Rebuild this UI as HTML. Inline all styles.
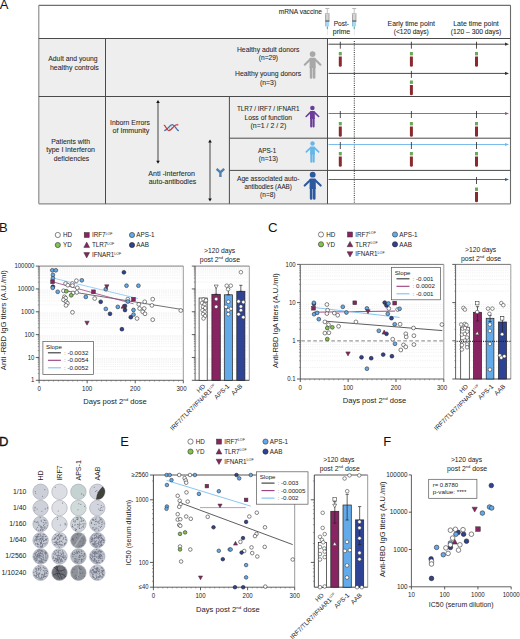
<!DOCTYPE html>
<html><head><meta charset="utf-8"><style>
html,body{margin:0;padding:0;background:#fff;width:520px;height:639px;overflow:hidden}
svg{display:block}
text{font-family:"Liberation Sans", sans-serif}
</style></head><body>
<svg width="520" height="639" viewBox="0 0 520 639">
<rect width="520" height="639" fill="#fff"/>
<text x="-0.20" y="8.50" font-size="13.0" text-anchor="start" fill="#111" >A</text>
<rect x="38.80" y="38.50" width="288.70" height="165.30" fill="#eeeeee" stroke="none" stroke-width="0.8" />
<line x1="38.80" y1="5.30" x2="510.50" y2="5.30" stroke="#4a4a4a" stroke-width="1.0" />
<line x1="38.80" y1="5.30" x2="38.80" y2="203.80" stroke="#858585" stroke-width="1.1" />
<line x1="510.50" y1="5.30" x2="510.50" y2="203.80" stroke="#6a6a6a" stroke-width="1.1" />
<line x1="38.80" y1="203.80" x2="510.50" y2="203.80" stroke="#8a8a8a" stroke-width="1.3" />
<line x1="38.80" y1="38.50" x2="510.50" y2="38.50" stroke="#4a4a4a" stroke-width="1.0" />
<line x1="38.80" y1="96.50" x2="510.50" y2="96.50" stroke="#4a4a4a" stroke-width="1.0" />
<line x1="105.50" y1="38.50" x2="105.50" y2="203.80" stroke="#4a4a4a" stroke-width="1.0" />
<line x1="327.50" y1="38.50" x2="327.50" y2="203.80" stroke="#4a4a4a" stroke-width="1.0" />
<line x1="229.40" y1="96.50" x2="229.40" y2="203.80" stroke="#4a4a4a" stroke-width="1.0" />
<line x1="229.40" y1="138.20" x2="510.50" y2="138.20" stroke="#4a4a4a" stroke-width="1.0" />
<line x1="229.40" y1="170.40" x2="510.50" y2="170.40" stroke="#4a4a4a" stroke-width="1.0" />
<text x="72.90" y="61.40" font-size="7.3" text-anchor="middle" fill="#2a2a2a" stroke="#2a2a2a" stroke-width="0.08" textLength="49.2" lengthAdjust="spacingAndGlyphs">Adult and young</text>
<text x="74.40" y="69.60" font-size="7.3" text-anchor="middle" fill="#2a2a2a" stroke="#2a2a2a" stroke-width="0.08" textLength="48.8" lengthAdjust="spacingAndGlyphs">healthy controls</text>
<text x="70.60" y="144.20" font-size="7.3" text-anchor="middle" fill="#2a2a2a" stroke="#2a2a2a" stroke-width="0.08" textLength="38.8" lengthAdjust="spacingAndGlyphs">Patients with</text>
<text x="70.60" y="152.40" font-size="7.3" text-anchor="middle" fill="#2a2a2a" stroke="#2a2a2a" stroke-width="0.08" textLength="48.8" lengthAdjust="spacingAndGlyphs">type I interferon</text>
<text x="71.50" y="160.60" font-size="7.3" text-anchor="middle" fill="#2a2a2a" stroke="#2a2a2a" stroke-width="0.08" textLength="35.5" lengthAdjust="spacingAndGlyphs">deficiencies</text>
<text x="130.00" y="124.60" font-size="7.3" text-anchor="middle" fill="#2a2a2a" stroke="#2a2a2a" stroke-width="0.08" textLength="40" lengthAdjust="spacingAndGlyphs">Inborn Errors</text>
<text x="130.90" y="132.80" font-size="7.3" text-anchor="middle" fill="#2a2a2a" stroke="#2a2a2a" stroke-width="0.08" textLength="36.8" lengthAdjust="spacingAndGlyphs">of Immunity</text>
<text x="171.60" y="175.60" font-size="7.3" text-anchor="middle" fill="#2a2a2a" stroke="#2a2a2a" stroke-width="0.08" textLength="46.8" lengthAdjust="spacingAndGlyphs">Anti -interferon</text>
<text x="172.50" y="183.80" font-size="7.3" text-anchor="middle" fill="#2a2a2a" stroke="#2a2a2a" stroke-width="0.08" textLength="47.5" lengthAdjust="spacingAndGlyphs">auto-antibodies</text>
<text x="268.20" y="51.70" font-size="7.3" text-anchor="middle" fill="#2a2a2a" stroke="#2a2a2a" stroke-width="0.08" textLength="62.5" lengthAdjust="spacingAndGlyphs">Healthy adult donors</text>
<text x="268.40" y="59.90" font-size="7.3" text-anchor="middle" fill="#2a2a2a" stroke="#2a2a2a" stroke-width="0.08" textLength="19.3" lengthAdjust="spacingAndGlyphs">(n=29)</text>
<text x="268.10" y="76.40" font-size="7.3" text-anchor="middle" fill="#2a2a2a" stroke="#2a2a2a" stroke-width="0.08" textLength="66.2" lengthAdjust="spacingAndGlyphs">Healthy young donors</text>
<text x="268.10" y="84.60" font-size="7.3" text-anchor="middle" fill="#2a2a2a" stroke="#2a2a2a" stroke-width="0.08" textLength="16.2" lengthAdjust="spacingAndGlyphs">(n=3)</text>
<text x="268.20" y="111.40" font-size="7.3" text-anchor="middle" fill="#2a2a2a" stroke="#2a2a2a" stroke-width="0.08" textLength="62.5" lengthAdjust="spacingAndGlyphs">TLR7 / IRF7 / IFNAR1</text>
<text x="268.20" y="119.60" font-size="7.3" text-anchor="middle" fill="#2a2a2a" stroke="#2a2a2a" stroke-width="0.08" textLength="47.5" lengthAdjust="spacingAndGlyphs">Loss of function</text>
<text x="268.40" y="127.80" font-size="7.3" text-anchor="middle" fill="#2a2a2a" stroke="#2a2a2a" stroke-width="0.08" textLength="35.8" lengthAdjust="spacingAndGlyphs">(n=1 / 2 / 2)</text>
<text x="267.10" y="152.70" font-size="7.3" text-anchor="middle" fill="#2a2a2a" stroke="#2a2a2a" stroke-width="0.08" textLength="18.2" lengthAdjust="spacingAndGlyphs">APS-1</text>
<text x="268.40" y="160.70" font-size="7.3" text-anchor="middle" fill="#2a2a2a" stroke="#2a2a2a" stroke-width="0.08" textLength="19.2" lengthAdjust="spacingAndGlyphs">(n=13)</text>
<text x="268.20" y="180.70" font-size="7.3" text-anchor="middle" fill="#2a2a2a" stroke="#2a2a2a" stroke-width="0.08" textLength="62.5" lengthAdjust="spacingAndGlyphs">Age associated auto-</text>
<text x="268.20" y="188.70" font-size="7.3" text-anchor="middle" fill="#2a2a2a" stroke="#2a2a2a" stroke-width="0.08" textLength="47.5" lengthAdjust="spacingAndGlyphs">antibodies (AAB)</text>
<text x="267.80" y="196.70" font-size="7.3" text-anchor="middle" fill="#2a2a2a" stroke="#2a2a2a" stroke-width="0.08" textLength="15.5" lengthAdjust="spacingAndGlyphs">(n=8)</text>
<text x="300.40" y="14.00" font-size="6.5" text-anchor="middle" fill="#2a2a2a" stroke="#2a2a2a" stroke-width="0.08" textLength="43.2" lengthAdjust="spacingAndGlyphs">mRNA vaccine</text>
<text x="341.40" y="26.00" font-size="7.3" text-anchor="middle" fill="#2a2a2a" stroke="#2a2a2a" stroke-width="0.08" textLength="15.3" lengthAdjust="spacingAndGlyphs">Post-</text>
<text x="341.50" y="33.80" font-size="7.3" text-anchor="middle" fill="#2a2a2a" stroke="#2a2a2a" stroke-width="0.08" textLength="17.5" lengthAdjust="spacingAndGlyphs">prime</text>
<text x="411.30" y="26.30" font-size="7.3" text-anchor="middle" fill="#2a2a2a" stroke="#2a2a2a" stroke-width="0.08" textLength="47.5" lengthAdjust="spacingAndGlyphs">Early time point</text>
<text x="411.30" y="34.40" font-size="7.3" text-anchor="middle" fill="#2a2a2a" stroke="#2a2a2a" stroke-width="0.08" textLength="35" lengthAdjust="spacingAndGlyphs">(&lt;120 days)</text>
<text x="476.00" y="26.30" font-size="7.3" text-anchor="middle" fill="#2a2a2a" stroke="#2a2a2a" stroke-width="0.08" textLength="45.5" lengthAdjust="spacingAndGlyphs">Late time point</text>
<text x="476.00" y="34.40" font-size="7.3" text-anchor="middle" fill="#2a2a2a" stroke="#2a2a2a" stroke-width="0.08" textLength="50.5" lengthAdjust="spacingAndGlyphs">(120 – 300 days)</text>
<rect x="325.30" y="8.00" width="4.00" height="0.80" fill="#a8a8a8" stroke="none" stroke-width="0.8" />
<rect x="326.80" y="8.80" width="1.00" height="4.60" fill="#c4c4c4" stroke="none" stroke-width="0.8" />
<rect x="324.90" y="13.40" width="4.80" height="1.00" fill="#9c9c9c" stroke="none" stroke-width="0.8" />
<rect x="325.20" y="14.40" width="4.20" height="6.20" fill="#d4d4d4" stroke="none" stroke-width="0.8" />
<rect x="325.20" y="14.40" width="0.90" height="6.20" fill="#a0a0a0" stroke="none" stroke-width="0.8" />
<rect x="328.50" y="14.40" width="0.90" height="6.20" fill="#a8a8a8" stroke="none" stroke-width="0.8" />
<rect x="325.20" y="20.40" width="4.20" height="1.40" fill="#505050" stroke="none" stroke-width="0.8" />
<rect x="325.40" y="21.80" width="3.80" height="4.60" fill="#a8d8f4" stroke="none" stroke-width="0.8" />
<rect x="325.40" y="21.80" width="0.70" height="4.60" fill="#7ab0d4" stroke="none" stroke-width="0.8" />
<rect x="326.85" y="26.40" width="0.90" height="2.80" fill="#3a9a8a" stroke="none" stroke-width="0.8" />
<rect x="327.05" y="29.20" width="0.50" height="6.00" fill="#d0d0d0" stroke="none" stroke-width="0.8" />
<rect x="352.20" y="8.00" width="4.00" height="0.80" fill="#a8a8a8" stroke="none" stroke-width="0.8" />
<rect x="353.70" y="8.80" width="1.00" height="4.60" fill="#c4c4c4" stroke="none" stroke-width="0.8" />
<rect x="351.80" y="13.40" width="4.80" height="1.00" fill="#9c9c9c" stroke="none" stroke-width="0.8" />
<rect x="352.10" y="14.40" width="4.20" height="6.20" fill="#d4d4d4" stroke="none" stroke-width="0.8" />
<rect x="352.10" y="14.40" width="0.90" height="6.20" fill="#a0a0a0" stroke="none" stroke-width="0.8" />
<rect x="355.40" y="14.40" width="0.90" height="6.20" fill="#a8a8a8" stroke="none" stroke-width="0.8" />
<rect x="352.10" y="20.40" width="4.20" height="1.40" fill="#505050" stroke="none" stroke-width="0.8" />
<rect x="352.30" y="21.80" width="3.80" height="4.60" fill="#a8d8f4" stroke="none" stroke-width="0.8" />
<rect x="352.30" y="21.80" width="0.70" height="4.60" fill="#7ab0d4" stroke="none" stroke-width="0.8" />
<rect x="353.75" y="26.40" width="0.90" height="2.80" fill="#3a9a8a" stroke="none" stroke-width="0.8" />
<rect x="353.95" y="29.20" width="0.50" height="6.00" fill="#d0d0d0" stroke="none" stroke-width="0.8" />
<line x1="158.00" y1="102.00" x2="158.00" y2="161.80" stroke="#555" stroke-width="1.1" />
<path d="M156.2,103.0 L158,100 L159.8,103.0 Z" fill="#111"/>
<path d="M156.2,160.8 L158,163.8 L159.8,160.8 Z" fill="#111"/>
<line x1="210.00" y1="141.50" x2="210.00" y2="199.50" stroke="#555" stroke-width="1.1" />
<path d="M208.2,142.5 L210,139.5 L211.8,142.5 Z" fill="#111"/>
<path d="M208.2,198.5 L210,201.5 L211.8,198.5 Z" fill="#111"/>
<path d="M169.5,127.2 L169.8,129.8 M171.2,126.2 L171.6,129.6 M173.2,125.6 L173.5,128.4" stroke="#a9bdd6" stroke-width="0.6"/>
<path d="M164.2,130.7 C167.2,130.7 169.4,124.6 172.3,124.6 C175.2,124.6 176.4,130.7 178.9,130.7" fill="none" stroke="#3f72ae" stroke-width="1.25"/>
<path d="M163.8,125.0 C165.8,125.2 166.6,130.7 168.8,130.7 C171.2,130.7 173.6,125.8 175.8,125.0 L177.6,124.6" fill="none" stroke="#c03a3a" stroke-width="1.25"/>
<circle cx="177.6" cy="124.7" r="0.9" fill="#d46a6a"/>
<path d="M216.6,168.8 L220.4,172.4 L224.2,168.8 M220.4,172.2 L220.4,177.0" fill="none" stroke="#4f80b2" stroke-width="2.4" stroke-linejoin="miter"/>
<g transform="translate(312.6,54.1) scale(0.98)" fill="#a8a8a8" stroke="#a8a8a8"><circle cx="0" cy="0" r="2.9" stroke="none"/><path d="M-3.1,4.7 Q-3.1,3.8 -2.2,3.8 L2.2,3.8 Q3.1,3.8 3.1,4.7 L3.1,14.2 L-3.1,14.2 Z" stroke="none"/><path d="M-2.3,5.3 L-8.0,10.9 M2.3,5.3 L8.0,10.9" stroke-width="2.1" stroke-linecap="round" fill="none"/><path d="M-1.55,13 L-1.55,23.8 M1.55,13 L1.55,23.8" stroke-width="2.6" stroke-linecap="round" fill="none"/></g>
<g transform="translate(312.4,108.0) scale(0.78)" fill="#6a3d9a" stroke="#6a3d9a"><circle cx="0" cy="0" r="2.9" stroke="none"/><path d="M-3.1,4.7 Q-3.1,3.8 -2.2,3.8 L2.2,3.8 Q3.1,3.8 3.1,4.7 L3.1,14.2 L-3.1,14.2 Z" stroke="none"/><path d="M-2.3,5.3 L-8.0,10.9 M2.3,5.3 L8.0,10.9" stroke-width="2.1" stroke-linecap="round" fill="none"/><path d="M-1.55,13 L-1.55,23.8 M1.55,13 L1.55,23.8" stroke-width="2.6" stroke-linecap="round" fill="none"/></g>
<g transform="translate(312.5,143.5) scale(0.77)" fill="#66b6ea" stroke="#66b6ea"><circle cx="0" cy="0" r="2.9" stroke="none"/><path d="M-3.1,4.7 Q-3.1,3.8 -2.2,3.8 L2.2,3.8 Q3.1,3.8 3.1,4.7 L3.1,14.2 L-3.1,14.2 Z" stroke="none"/><path d="M-2.3,5.3 L-8.0,10.9 M2.3,5.3 L8.0,10.9" stroke-width="2.1" stroke-linecap="round" fill="none"/><path d="M-1.55,13 L-1.55,23.8 M1.55,13 L1.55,23.8" stroke-width="2.6" stroke-linecap="round" fill="none"/></g>
<g transform="translate(312.7,174.7) scale(1.0)" fill="#2d5a9e" stroke="#2d5a9e"><circle cx="0" cy="0" r="2.9" stroke="none"/><path d="M-3.1,4.7 Q-3.1,3.8 -2.2,3.8 L2.2,3.8 Q3.1,3.8 3.1,4.7 L3.1,14.2 L-3.1,14.2 Z" stroke="none"/><path d="M-2.3,5.3 L-8.0,10.9 M2.3,5.3 L8.0,10.9" stroke-width="2.1" stroke-linecap="round" fill="none"/><path d="M-1.55,13 L-1.55,23.8 M1.55,13 L1.55,23.8" stroke-width="2.6" stroke-linecap="round" fill="none"/></g>
<line x1="354.30" y1="41.00" x2="354.30" y2="203.80" stroke="#111" stroke-width="0.9" stroke-dasharray="1,1.2"/>
<line x1="328.50" y1="44.20" x2="506.50" y2="44.20" stroke="#333" stroke-width="0.9" />
<path d="M505,42.6 L509,44.2 L505,45.800000000000004 Z" fill="#333"/>
<line x1="340.30" y1="41.70" x2="340.30" y2="48.70" stroke="#222" stroke-width="0.8" />
<line x1="411.40" y1="41.70" x2="411.40" y2="48.70" stroke="#222" stroke-width="0.8" />
<line x1="476.50" y1="41.70" x2="476.50" y2="48.70" stroke="#222" stroke-width="0.8" />
<line x1="328.50" y1="73.40" x2="506.50" y2="73.40" stroke="#333" stroke-width="0.9" />
<path d="M505,71.80000000000001 L509,73.4 L505,75.0 Z" fill="#333"/>
<line x1="411.40" y1="70.90" x2="411.40" y2="77.90" stroke="#222" stroke-width="0.8" />
<line x1="328.50" y1="113.50" x2="506.50" y2="113.50" stroke="#8c5a86" stroke-width="0.9" />
<path d="M505,111.9 L509,113.5 L505,115.1 Z" fill="#8c5a86"/>
<line x1="340.30" y1="111.00" x2="340.30" y2="118.00" stroke="#222" stroke-width="0.8" />
<line x1="411.40" y1="111.00" x2="411.40" y2="118.00" stroke="#222" stroke-width="0.8" />
<line x1="476.50" y1="111.00" x2="476.50" y2="118.00" stroke="#222" stroke-width="0.8" />
<line x1="328.50" y1="144.50" x2="506.50" y2="144.50" stroke="#6cb6ea" stroke-width="0.9" />
<path d="M505,142.9 L509,144.5 L505,146.1 Z" fill="#6cb6ea"/>
<line x1="340.30" y1="142.00" x2="340.30" y2="149.00" stroke="#222" stroke-width="0.8" />
<line x1="411.40" y1="142.00" x2="411.40" y2="149.00" stroke="#222" stroke-width="0.8" />
<line x1="476.50" y1="142.00" x2="476.50" y2="149.00" stroke="#222" stroke-width="0.8" />
<line x1="328.50" y1="179.50" x2="506.50" y2="179.50" stroke="#2f5a9a" stroke-width="0.9" />
<path d="M505,177.9 L509,179.5 L505,181.1 Z" fill="#2f5a9a"/>
<line x1="476.50" y1="177.00" x2="476.50" y2="184.00" stroke="#222" stroke-width="0.8" />
<rect x="338.80" y="52.00" width="3.00" height="3.40" fill="#6aa85a" stroke="none" stroke-width="0.8" />
<path d="M338.8,56.6 L341.8,56.6 L341.8,65.4 Q341.8,66.8 340.3,66.8 Q338.8,66.8 338.8,65.4 Z" fill="#8a2a2e"/>
<rect x="409.90" y="52.00" width="3.00" height="3.40" fill="#6aa85a" stroke="none" stroke-width="0.8" />
<path d="M409.9,56.6 L412.9,56.6 L412.9,65.4 Q412.9,66.8 411.4,66.8 Q409.9,66.8 409.9,65.4 Z" fill="#8a2a2e"/>
<rect x="475.00" y="52.00" width="3.00" height="3.40" fill="#6aa85a" stroke="none" stroke-width="0.8" />
<path d="M475.0,56.6 L478.0,56.6 L478.0,65.4 Q478.0,66.8 476.5,66.8 Q475.0,66.8 475.0,65.4 Z" fill="#8a2a2e"/>
<rect x="409.90" y="80.50" width="3.00" height="3.40" fill="#6aa85a" stroke="none" stroke-width="0.8" />
<path d="M409.9,85.1 L412.9,85.1 L412.9,93.9 Q412.9,95.3 411.4,95.3 Q409.9,95.3 409.9,93.9 Z" fill="#8a2a2e"/>
<rect x="338.80" y="122.00" width="3.00" height="3.40" fill="#6aa85a" stroke="none" stroke-width="0.8" />
<path d="M338.8,126.6 L341.8,126.6 L341.8,135.4 Q341.8,136.8 340.3,136.8 Q338.8,136.8 338.8,135.4 Z" fill="#8a2a2e"/>
<rect x="409.90" y="122.00" width="3.00" height="3.40" fill="#6aa85a" stroke="none" stroke-width="0.8" />
<path d="M409.9,126.6 L412.9,126.6 L412.9,135.4 Q412.9,136.8 411.4,136.8 Q409.9,136.8 409.9,135.4 Z" fill="#8a2a2e"/>
<rect x="475.00" y="122.00" width="3.00" height="3.40" fill="#6aa85a" stroke="none" stroke-width="0.8" />
<path d="M475.0,126.6 L478.0,126.6 L478.0,135.4 Q478.0,136.8 476.5,136.8 Q475.0,136.8 475.0,135.4 Z" fill="#8a2a2e"/>
<rect x="338.80" y="152.00" width="3.00" height="3.40" fill="#6aa85a" stroke="none" stroke-width="0.8" />
<path d="M338.8,156.6 L341.8,156.6 L341.8,165.4 Q341.8,166.8 340.3,166.8 Q338.8,166.8 338.8,165.4 Z" fill="#8a2a2e"/>
<rect x="409.90" y="152.00" width="3.00" height="3.40" fill="#6aa85a" stroke="none" stroke-width="0.8" />
<path d="M409.9,156.6 L412.9,156.6 L412.9,165.4 Q412.9,166.8 411.4,166.8 Q409.9,166.8 409.9,165.4 Z" fill="#8a2a2e"/>
<rect x="475.00" y="152.00" width="3.00" height="3.40" fill="#6aa85a" stroke="none" stroke-width="0.8" />
<path d="M475.0,156.6 L478.0,156.6 L478.0,165.4 Q478.0,166.8 476.5,166.8 Q475.0,166.8 475.0,165.4 Z" fill="#8a2a2e"/>
<rect x="475.00" y="187.50" width="3.00" height="3.40" fill="#6aa85a" stroke="none" stroke-width="0.8" />
<path d="M475.0,192.1 L478.0,192.1 L478.0,200.9 Q478.0,202.3 476.5,202.3 Q475.0,202.3 475.0,200.9 Z" fill="#8a2a2e"/>
<text x="-1.00" y="231.70" font-size="13.0" text-anchor="start" fill="#111" >B</text>
<circle cx="57.80" cy="235.00" r="2.6" fill="#ffffff" stroke="#333" stroke-width="0.6"/>
<text x="63.00" y="237.20" font-size="6.3" text-anchor="start" fill="#222" >HD</text>
<circle cx="57.80" cy="245.00" r="2.6" fill="#82c24e" stroke="#333" stroke-width="0.6"/>
<text x="63.00" y="247.20" font-size="6.3" text-anchor="start" fill="#222" >YD</text>
<rect x="84.20" y="232.50" width="5.00" height="5.00" fill="#892462" stroke="#333" stroke-width="0.5" />
<text x="91.90" y="237.20" font-size="6.3" text-anchor="start" fill="#222" >IRF7<tspan font-size="3.6" dy="-2.7">LOF</tspan></text>
<path d="M83.83,247.38 L89.58,247.38 L86.70,242.12 Z" fill="#892462" stroke="#333" stroke-width="0.5"/>
<text x="91.90" y="247.20" font-size="6.3" text-anchor="start" fill="#222" >TLR7<tspan font-size="3.6" dy="-2.7">LOF</tspan></text>
<path d="M83.83,252.62 L89.58,252.62 L86.70,257.88 Z" fill="#892462" stroke="#333" stroke-width="0.5"/>
<text x="91.90" y="257.20" font-size="6.3" text-anchor="start" fill="#222" >IFNAR1<tspan font-size="3.6" dy="-2.7">LOF</tspan></text>
<circle cx="132.00" cy="235.00" r="2.6" fill="#62aaea" stroke="#333" stroke-width="0.6"/>
<text x="136.30" y="237.20" font-size="6.3" text-anchor="start" fill="#222" >APS-1</text>
<circle cx="132.00" cy="245.00" r="2.6" fill="#2f4394" stroke="#222" stroke-width="0.6"/>
<text x="136.30" y="247.20" font-size="6.3" text-anchor="start" fill="#222" >AAB</text>
<line x1="39.10" y1="266.10" x2="183.30" y2="266.10" stroke="#555" stroke-width="0.8" />
<line x1="183.30" y1="266.10" x2="183.30" y2="380.30" stroke="#999" stroke-width="1.0" />
<line x1="39.10" y1="266.10" x2="39.10" y2="380.30" stroke="#444" stroke-width="0.85" />
<line x1="35.80" y1="380.30" x2="39.10" y2="380.30" stroke="#333" stroke-width="0.8" />
<line x1="37.80" y1="373.42" x2="39.10" y2="373.42" stroke="#555" stroke-width="0.5" />
<line x1="40.10" y1="373.42" x2="183.30" y2="373.42" stroke="#e2e2e2" stroke-width="0.5" stroke-dasharray="1.2,1"/>
<line x1="37.80" y1="369.40" x2="39.10" y2="369.40" stroke="#555" stroke-width="0.5" />
<line x1="40.10" y1="369.40" x2="183.30" y2="369.40" stroke="#e2e2e2" stroke-width="0.5" stroke-dasharray="1.2,1"/>
<line x1="37.80" y1="366.55" x2="39.10" y2="366.55" stroke="#555" stroke-width="0.5" />
<line x1="40.10" y1="366.55" x2="183.30" y2="366.55" stroke="#e2e2e2" stroke-width="0.5" stroke-dasharray="1.2,1"/>
<line x1="37.80" y1="364.34" x2="39.10" y2="364.34" stroke="#555" stroke-width="0.5" />
<line x1="40.10" y1="364.34" x2="183.30" y2="364.34" stroke="#e2e2e2" stroke-width="0.5" stroke-dasharray="1.2,1"/>
<line x1="37.80" y1="362.53" x2="39.10" y2="362.53" stroke="#555" stroke-width="0.5" />
<line x1="40.10" y1="362.53" x2="183.30" y2="362.53" stroke="#e2e2e2" stroke-width="0.5" stroke-dasharray="1.2,1"/>
<line x1="37.80" y1="361.00" x2="39.10" y2="361.00" stroke="#555" stroke-width="0.5" />
<line x1="40.10" y1="361.00" x2="183.30" y2="361.00" stroke="#e2e2e2" stroke-width="0.5" stroke-dasharray="1.2,1"/>
<line x1="37.80" y1="359.67" x2="39.10" y2="359.67" stroke="#555" stroke-width="0.5" />
<line x1="40.10" y1="359.67" x2="183.30" y2="359.67" stroke="#e2e2e2" stroke-width="0.5" stroke-dasharray="1.2,1"/>
<line x1="37.80" y1="358.51" x2="39.10" y2="358.51" stroke="#555" stroke-width="0.5" />
<line x1="40.10" y1="358.51" x2="183.30" y2="358.51" stroke="#e2e2e2" stroke-width="0.5" stroke-dasharray="1.2,1"/>
<line x1="35.80" y1="357.46" x2="39.10" y2="357.46" stroke="#333" stroke-width="0.8" />
<line x1="37.80" y1="350.58" x2="39.10" y2="350.58" stroke="#555" stroke-width="0.5" />
<line x1="40.10" y1="350.58" x2="183.30" y2="350.58" stroke="#e2e2e2" stroke-width="0.5" stroke-dasharray="1.2,1"/>
<line x1="37.80" y1="346.56" x2="39.10" y2="346.56" stroke="#555" stroke-width="0.5" />
<line x1="40.10" y1="346.56" x2="183.30" y2="346.56" stroke="#e2e2e2" stroke-width="0.5" stroke-dasharray="1.2,1"/>
<line x1="37.80" y1="343.71" x2="39.10" y2="343.71" stroke="#555" stroke-width="0.5" />
<line x1="40.10" y1="343.71" x2="183.30" y2="343.71" stroke="#e2e2e2" stroke-width="0.5" stroke-dasharray="1.2,1"/>
<line x1="37.80" y1="341.50" x2="39.10" y2="341.50" stroke="#555" stroke-width="0.5" />
<line x1="40.10" y1="341.50" x2="183.30" y2="341.50" stroke="#e2e2e2" stroke-width="0.5" stroke-dasharray="1.2,1"/>
<line x1="37.80" y1="339.69" x2="39.10" y2="339.69" stroke="#555" stroke-width="0.5" />
<line x1="40.10" y1="339.69" x2="183.30" y2="339.69" stroke="#e2e2e2" stroke-width="0.5" stroke-dasharray="1.2,1"/>
<line x1="37.80" y1="338.16" x2="39.10" y2="338.16" stroke="#555" stroke-width="0.5" />
<line x1="40.10" y1="338.16" x2="183.30" y2="338.16" stroke="#e2e2e2" stroke-width="0.5" stroke-dasharray="1.2,1"/>
<line x1="37.80" y1="336.83" x2="39.10" y2="336.83" stroke="#555" stroke-width="0.5" />
<line x1="40.10" y1="336.83" x2="183.30" y2="336.83" stroke="#e2e2e2" stroke-width="0.5" stroke-dasharray="1.2,1"/>
<line x1="37.80" y1="335.67" x2="39.10" y2="335.67" stroke="#555" stroke-width="0.5" />
<line x1="40.10" y1="335.67" x2="183.30" y2="335.67" stroke="#e2e2e2" stroke-width="0.5" stroke-dasharray="1.2,1"/>
<line x1="35.80" y1="334.62" x2="39.10" y2="334.62" stroke="#333" stroke-width="0.8" />
<line x1="37.80" y1="327.74" x2="39.10" y2="327.74" stroke="#555" stroke-width="0.5" />
<line x1="40.10" y1="327.74" x2="183.30" y2="327.74" stroke="#e2e2e2" stroke-width="0.5" stroke-dasharray="1.2,1"/>
<line x1="37.80" y1="323.72" x2="39.10" y2="323.72" stroke="#555" stroke-width="0.5" />
<line x1="40.10" y1="323.72" x2="183.30" y2="323.72" stroke="#e2e2e2" stroke-width="0.5" stroke-dasharray="1.2,1"/>
<line x1="37.80" y1="320.87" x2="39.10" y2="320.87" stroke="#555" stroke-width="0.5" />
<line x1="40.10" y1="320.87" x2="183.30" y2="320.87" stroke="#e2e2e2" stroke-width="0.5" stroke-dasharray="1.2,1"/>
<line x1="37.80" y1="318.66" x2="39.10" y2="318.66" stroke="#555" stroke-width="0.5" />
<line x1="40.10" y1="318.66" x2="183.30" y2="318.66" stroke="#e2e2e2" stroke-width="0.5" stroke-dasharray="1.2,1"/>
<line x1="37.80" y1="316.85" x2="39.10" y2="316.85" stroke="#555" stroke-width="0.5" />
<line x1="40.10" y1="316.85" x2="183.30" y2="316.85" stroke="#e2e2e2" stroke-width="0.5" stroke-dasharray="1.2,1"/>
<line x1="37.80" y1="315.32" x2="39.10" y2="315.32" stroke="#555" stroke-width="0.5" />
<line x1="40.10" y1="315.32" x2="183.30" y2="315.32" stroke="#e2e2e2" stroke-width="0.5" stroke-dasharray="1.2,1"/>
<line x1="37.80" y1="313.99" x2="39.10" y2="313.99" stroke="#555" stroke-width="0.5" />
<line x1="40.10" y1="313.99" x2="183.30" y2="313.99" stroke="#e2e2e2" stroke-width="0.5" stroke-dasharray="1.2,1"/>
<line x1="37.80" y1="312.83" x2="39.10" y2="312.83" stroke="#555" stroke-width="0.5" />
<line x1="40.10" y1="312.83" x2="183.30" y2="312.83" stroke="#e2e2e2" stroke-width="0.5" stroke-dasharray="1.2,1"/>
<line x1="35.80" y1="311.78" x2="39.10" y2="311.78" stroke="#333" stroke-width="0.8" />
<line x1="37.80" y1="304.90" x2="39.10" y2="304.90" stroke="#555" stroke-width="0.5" />
<line x1="40.10" y1="304.90" x2="183.30" y2="304.90" stroke="#e2e2e2" stroke-width="0.5" stroke-dasharray="1.2,1"/>
<line x1="37.80" y1="300.88" x2="39.10" y2="300.88" stroke="#555" stroke-width="0.5" />
<line x1="40.10" y1="300.88" x2="183.30" y2="300.88" stroke="#e2e2e2" stroke-width="0.5" stroke-dasharray="1.2,1"/>
<line x1="37.80" y1="298.03" x2="39.10" y2="298.03" stroke="#555" stroke-width="0.5" />
<line x1="40.10" y1="298.03" x2="183.30" y2="298.03" stroke="#e2e2e2" stroke-width="0.5" stroke-dasharray="1.2,1"/>
<line x1="37.80" y1="295.82" x2="39.10" y2="295.82" stroke="#555" stroke-width="0.5" />
<line x1="40.10" y1="295.82" x2="183.30" y2="295.82" stroke="#e2e2e2" stroke-width="0.5" stroke-dasharray="1.2,1"/>
<line x1="37.80" y1="294.01" x2="39.10" y2="294.01" stroke="#555" stroke-width="0.5" />
<line x1="40.10" y1="294.01" x2="183.30" y2="294.01" stroke="#e2e2e2" stroke-width="0.5" stroke-dasharray="1.2,1"/>
<line x1="37.80" y1="292.48" x2="39.10" y2="292.48" stroke="#555" stroke-width="0.5" />
<line x1="40.10" y1="292.48" x2="183.30" y2="292.48" stroke="#e2e2e2" stroke-width="0.5" stroke-dasharray="1.2,1"/>
<line x1="37.80" y1="291.15" x2="39.10" y2="291.15" stroke="#555" stroke-width="0.5" />
<line x1="40.10" y1="291.15" x2="183.30" y2="291.15" stroke="#e2e2e2" stroke-width="0.5" stroke-dasharray="1.2,1"/>
<line x1="37.80" y1="289.99" x2="39.10" y2="289.99" stroke="#555" stroke-width="0.5" />
<line x1="40.10" y1="289.99" x2="183.30" y2="289.99" stroke="#e2e2e2" stroke-width="0.5" stroke-dasharray="1.2,1"/>
<line x1="35.80" y1="288.94" x2="39.10" y2="288.94" stroke="#333" stroke-width="0.8" />
<line x1="37.80" y1="282.06" x2="39.10" y2="282.06" stroke="#555" stroke-width="0.5" />
<line x1="40.10" y1="282.06" x2="183.30" y2="282.06" stroke="#e2e2e2" stroke-width="0.5" stroke-dasharray="1.2,1"/>
<line x1="37.80" y1="278.04" x2="39.10" y2="278.04" stroke="#555" stroke-width="0.5" />
<line x1="40.10" y1="278.04" x2="183.30" y2="278.04" stroke="#e2e2e2" stroke-width="0.5" stroke-dasharray="1.2,1"/>
<line x1="37.80" y1="275.19" x2="39.10" y2="275.19" stroke="#555" stroke-width="0.5" />
<line x1="40.10" y1="275.19" x2="183.30" y2="275.19" stroke="#e2e2e2" stroke-width="0.5" stroke-dasharray="1.2,1"/>
<line x1="37.80" y1="272.98" x2="39.10" y2="272.98" stroke="#555" stroke-width="0.5" />
<line x1="40.10" y1="272.98" x2="183.30" y2="272.98" stroke="#e2e2e2" stroke-width="0.5" stroke-dasharray="1.2,1"/>
<line x1="37.80" y1="271.17" x2="39.10" y2="271.17" stroke="#555" stroke-width="0.5" />
<line x1="40.10" y1="271.17" x2="183.30" y2="271.17" stroke="#e2e2e2" stroke-width="0.5" stroke-dasharray="1.2,1"/>
<line x1="37.80" y1="269.64" x2="39.10" y2="269.64" stroke="#555" stroke-width="0.5" />
<line x1="40.10" y1="269.64" x2="183.30" y2="269.64" stroke="#e2e2e2" stroke-width="0.5" stroke-dasharray="1.2,1"/>
<line x1="37.80" y1="268.31" x2="39.10" y2="268.31" stroke="#555" stroke-width="0.5" />
<line x1="40.10" y1="268.31" x2="183.30" y2="268.31" stroke="#e2e2e2" stroke-width="0.5" stroke-dasharray="1.2,1"/>
<line x1="37.80" y1="267.15" x2="39.10" y2="267.15" stroke="#555" stroke-width="0.5" />
<line x1="40.10" y1="267.15" x2="183.30" y2="267.15" stroke="#e2e2e2" stroke-width="0.5" stroke-dasharray="1.2,1"/>
<line x1="35.80" y1="266.10" x2="39.10" y2="266.10" stroke="#333" stroke-width="0.8" />
<text x="0" y="0" font-size="6.6" text-anchor="end" fill="#222" transform="translate(34.40 268.20) scale(0.91 1)" >100000</text>
<text x="0" y="0" font-size="6.6" text-anchor="end" fill="#222" transform="translate(34.40 291.04) scale(0.91 1)" >10000</text>
<text x="0" y="0" font-size="6.6" text-anchor="end" fill="#222" transform="translate(34.40 313.88) scale(0.91 1)" >1000</text>
<text x="0" y="0" font-size="6.6" text-anchor="end" fill="#222" transform="translate(34.40 336.72) scale(0.91 1)" >100</text>
<text x="0" y="0" font-size="6.6" text-anchor="end" fill="#222" transform="translate(34.40 359.56) scale(0.91 1)" >10</text>
<text x="0" y="0" font-size="6.6" text-anchor="end" fill="#222" transform="translate(34.40 382.40) scale(0.91 1)" >1</text>
<line x1="39.10" y1="380.30" x2="183.30" y2="380.30" stroke="#444" stroke-width="0.85" />
<line x1="39.10" y1="380.30" x2="39.10" y2="383.30" stroke="#333" stroke-width="0.8" />
<line x1="43.91" y1="380.30" x2="43.91" y2="381.60" stroke="#555" stroke-width="0.5" />
<line x1="48.71" y1="380.30" x2="48.71" y2="381.60" stroke="#555" stroke-width="0.5" />
<line x1="53.52" y1="380.30" x2="53.52" y2="381.60" stroke="#555" stroke-width="0.5" />
<line x1="58.33" y1="380.30" x2="58.33" y2="381.60" stroke="#555" stroke-width="0.5" />
<line x1="63.13" y1="380.30" x2="63.13" y2="381.60" stroke="#555" stroke-width="0.5" />
<line x1="67.94" y1="380.30" x2="67.94" y2="381.60" stroke="#555" stroke-width="0.5" />
<line x1="72.75" y1="380.30" x2="72.75" y2="381.60" stroke="#555" stroke-width="0.5" />
<line x1="77.55" y1="380.30" x2="77.55" y2="381.60" stroke="#555" stroke-width="0.5" />
<line x1="82.36" y1="380.30" x2="82.36" y2="381.60" stroke="#555" stroke-width="0.5" />
<line x1="87.17" y1="380.30" x2="87.17" y2="383.30" stroke="#333" stroke-width="0.8" />
<line x1="91.97" y1="380.30" x2="91.97" y2="381.60" stroke="#555" stroke-width="0.5" />
<line x1="96.78" y1="380.30" x2="96.78" y2="381.60" stroke="#555" stroke-width="0.5" />
<line x1="101.59" y1="380.30" x2="101.59" y2="381.60" stroke="#555" stroke-width="0.5" />
<line x1="106.39" y1="380.30" x2="106.39" y2="381.60" stroke="#555" stroke-width="0.5" />
<line x1="111.20" y1="380.30" x2="111.20" y2="381.60" stroke="#555" stroke-width="0.5" />
<line x1="116.01" y1="380.30" x2="116.01" y2="381.60" stroke="#555" stroke-width="0.5" />
<line x1="120.81" y1="380.30" x2="120.81" y2="381.60" stroke="#555" stroke-width="0.5" />
<line x1="125.62" y1="380.30" x2="125.62" y2="381.60" stroke="#555" stroke-width="0.5" />
<line x1="130.43" y1="380.30" x2="130.43" y2="381.60" stroke="#555" stroke-width="0.5" />
<line x1="135.23" y1="380.30" x2="135.23" y2="383.30" stroke="#333" stroke-width="0.8" />
<line x1="140.04" y1="380.30" x2="140.04" y2="381.60" stroke="#555" stroke-width="0.5" />
<line x1="144.85" y1="380.30" x2="144.85" y2="381.60" stroke="#555" stroke-width="0.5" />
<line x1="149.65" y1="380.30" x2="149.65" y2="381.60" stroke="#555" stroke-width="0.5" />
<line x1="154.46" y1="380.30" x2="154.46" y2="381.60" stroke="#555" stroke-width="0.5" />
<line x1="159.27" y1="380.30" x2="159.27" y2="381.60" stroke="#555" stroke-width="0.5" />
<line x1="164.07" y1="380.30" x2="164.07" y2="381.60" stroke="#555" stroke-width="0.5" />
<line x1="168.88" y1="380.30" x2="168.88" y2="381.60" stroke="#555" stroke-width="0.5" />
<line x1="173.69" y1="380.30" x2="173.69" y2="381.60" stroke="#555" stroke-width="0.5" />
<line x1="178.49" y1="380.30" x2="178.49" y2="381.60" stroke="#555" stroke-width="0.5" />
<line x1="183.30" y1="380.30" x2="183.30" y2="383.30" stroke="#333" stroke-width="0.8" />
<text x="0" y="0" font-size="6.6" text-anchor="middle" fill="#222" transform="translate(39.10 390.90) scale(0.93 1)" >0</text>
<text x="0" y="0" font-size="6.6" text-anchor="middle" fill="#222" transform="translate(87.17 390.90) scale(0.93 1)" >100</text>
<text x="0" y="0" font-size="6.6" text-anchor="middle" fill="#222" transform="translate(135.23 390.90) scale(0.93 1)" >200</text>
<text x="0" y="0" font-size="6.6" text-anchor="middle" fill="#222" transform="translate(181.50 390.90) scale(0.93 1)" >300</text>
<text x="115.00" y="403.60" font-size="7.6" text-anchor="middle" fill="#222" >Days post 2<tspan font-size="4.4" dy="-3">nd</tspan><tspan dy="3"> dose</tspan></text>
<text x="5.90" y="320.20" font-size="7.7" text-anchor="middle" fill="#222" transform="rotate(-90 5.9 320.2)" >Anti -RBD IgG  titers (A.U./ml)</text>
<line x1="64.00" y1="290.60" x2="182.80" y2="309.60" stroke="#333" stroke-width="0.7" />
<line x1="52.60" y1="281.80" x2="133.50" y2="303.80" stroke="#9b3a7a" stroke-width="0.75" />
<line x1="52.90" y1="278.00" x2="138.00" y2="298.60" stroke="#7cc0f0" stroke-width="0.75" />
<circle cx="76.40" cy="280.70" r="1.9" fill="#ffffff" stroke="#333" stroke-width="0.6"/>
<circle cx="65.60" cy="283.50" r="1.9" fill="#ffffff" stroke="#333" stroke-width="0.6"/>
<circle cx="67.80" cy="285.20" r="1.9" fill="#ffffff" stroke="#333" stroke-width="0.6"/>
<circle cx="72.40" cy="283.50" r="1.9" fill="#ffffff" stroke="#333" stroke-width="0.6"/>
<circle cx="72.50" cy="285.60" r="1.9" fill="#ffffff" stroke="#333" stroke-width="0.6"/>
<circle cx="77.30" cy="287.80" r="1.9" fill="#ffffff" stroke="#333" stroke-width="0.6"/>
<circle cx="63.50" cy="290.80" r="1.9" fill="#ffffff" stroke="#333" stroke-width="0.6"/>
<circle cx="76.80" cy="292.40" r="1.9" fill="#ffffff" stroke="#333" stroke-width="0.6"/>
<circle cx="73.00" cy="293.00" r="1.9" fill="#ffffff" stroke="#333" stroke-width="0.6"/>
<circle cx="64.40" cy="296.80" r="1.9" fill="#ffffff" stroke="#333" stroke-width="0.6"/>
<circle cx="65.60" cy="298.10" r="1.9" fill="#ffffff" stroke="#333" stroke-width="0.6"/>
<circle cx="63.50" cy="299.80" r="1.9" fill="#ffffff" stroke="#333" stroke-width="0.6"/>
<circle cx="66.00" cy="301.60" r="1.9" fill="#ffffff" stroke="#333" stroke-width="0.6"/>
<circle cx="67.40" cy="303.30" r="1.9" fill="#ffffff" stroke="#333" stroke-width="0.6"/>
<circle cx="66.00" cy="305.40" r="1.9" fill="#ffffff" stroke="#333" stroke-width="0.6"/>
<circle cx="72.50" cy="312.30" r="1.9" fill="#ffffff" stroke="#333" stroke-width="0.6"/>
<circle cx="94.70" cy="298.50" r="1.9" fill="#ffffff" stroke="#333" stroke-width="0.6"/>
<circle cx="127.80" cy="299.20" r="1.9" fill="#ffffff" stroke="#333" stroke-width="0.6"/>
<circle cx="144.70" cy="301.80" r="1.9" fill="#ffffff" stroke="#333" stroke-width="0.6"/>
<circle cx="152.70" cy="299.20" r="1.9" fill="#ffffff" stroke="#333" stroke-width="0.6"/>
<circle cx="138.80" cy="304.30" r="1.9" fill="#ffffff" stroke="#333" stroke-width="0.6"/>
<circle cx="151.90" cy="305.40" r="1.9" fill="#ffffff" stroke="#333" stroke-width="0.6"/>
<circle cx="139.60" cy="308.50" r="1.9" fill="#ffffff" stroke="#333" stroke-width="0.6"/>
<circle cx="144.20" cy="308.50" r="1.9" fill="#ffffff" stroke="#333" stroke-width="0.6"/>
<circle cx="142.70" cy="311.80" r="1.9" fill="#ffffff" stroke="#333" stroke-width="0.6"/>
<circle cx="145.00" cy="313.80" r="1.9" fill="#ffffff" stroke="#333" stroke-width="0.6"/>
<circle cx="137.00" cy="318.50" r="1.9" fill="#ffffff" stroke="#333" stroke-width="0.6"/>
<circle cx="152.70" cy="319.70" r="1.9" fill="#ffffff" stroke="#333" stroke-width="0.6"/>
<circle cx="180.80" cy="310.50" r="1.9" fill="#ffffff" stroke="#333" stroke-width="0.6"/>
<circle cx="66.30" cy="291.20" r="1.9" fill="#82c24e" stroke="#333" stroke-width="0.6"/>
<circle cx="71.20" cy="295.30" r="1.9" fill="#82c24e" stroke="#333" stroke-width="0.6"/>
<circle cx="52.90" cy="286.70" r="1.9" fill="#2f4394" stroke="#222" stroke-width="0.6"/>
<circle cx="100.70" cy="301.80" r="1.9" fill="#2f4394" stroke="#222" stroke-width="0.6"/>
<circle cx="110.00" cy="313.80" r="1.9" fill="#2f4394" stroke="#222" stroke-width="0.6"/>
<circle cx="123.90" cy="272.30" r="1.9" fill="#2f4394" stroke="#222" stroke-width="0.6"/>
<circle cx="125.00" cy="310.00" r="1.9" fill="#2f4394" stroke="#222" stroke-width="0.6"/>
<circle cx="121.90" cy="329.20" r="1.9" fill="#2f4394" stroke="#222" stroke-width="0.6"/>
<circle cx="130.80" cy="317.20" r="1.9" fill="#2f4394" stroke="#222" stroke-width="0.6"/>
<circle cx="125.00" cy="306.00" r="1.9" fill="#2f4394" stroke="#222" stroke-width="0.6"/>
<circle cx="52.30" cy="270.30" r="1.9" fill="#62aaea" stroke="#333" stroke-width="0.6"/>
<circle cx="55.80" cy="270.30" r="1.9" fill="#62aaea" stroke="#333" stroke-width="0.6"/>
<circle cx="52.90" cy="274.90" r="1.9" fill="#62aaea" stroke="#333" stroke-width="0.6"/>
<circle cx="52.90" cy="278.20" r="1.9" fill="#62aaea" stroke="#333" stroke-width="0.6"/>
<circle cx="57.70" cy="291.80" r="1.9" fill="#62aaea" stroke="#333" stroke-width="0.6"/>
<circle cx="81.80" cy="280.30" r="1.9" fill="#62aaea" stroke="#333" stroke-width="0.6"/>
<circle cx="85.80" cy="296.90" r="1.9" fill="#62aaea" stroke="#333" stroke-width="0.6"/>
<circle cx="105.80" cy="289.20" r="1.9" fill="#62aaea" stroke="#333" stroke-width="0.6"/>
<circle cx="105.80" cy="308.90" r="1.9" fill="#62aaea" stroke="#333" stroke-width="0.6"/>
<circle cx="126.50" cy="285.70" r="1.9" fill="#62aaea" stroke="#333" stroke-width="0.6"/>
<circle cx="138.40" cy="285.70" r="1.9" fill="#62aaea" stroke="#333" stroke-width="0.6"/>
<circle cx="117.80" cy="306.90" r="1.9" fill="#62aaea" stroke="#333" stroke-width="0.6"/>
<circle cx="133.50" cy="310.00" r="1.9" fill="#62aaea" stroke="#333" stroke-width="0.6"/>
<circle cx="133.50" cy="314.60" r="1.9" fill="#62aaea" stroke="#333" stroke-width="0.6"/>
<circle cx="127.80" cy="301.50" r="1.9" fill="#62aaea" stroke="#333" stroke-width="0.6"/>
<circle cx="52.70" cy="287.80" r="1.9" fill="#62aaea" stroke="#333" stroke-width="0.6"/>
<rect x="50.70" y="279.90" width="3.80" height="3.80" fill="#892462" stroke="#333" stroke-width="0.5" />
<rect x="91.60" y="289.90" width="3.80" height="3.80" fill="#892462" stroke="#333" stroke-width="0.5" />
<rect x="131.60" y="297.30" width="3.80" height="3.80" fill="#892462" stroke="#333" stroke-width="0.5" />
<path d="M121.02,308.31 L125.39,308.31 L123.20,304.31 Z" fill="#892462" stroke="#333" stroke-width="0.5"/>
<path d="M104.61,284.80 L108.98,284.80 L106.80,288.79 Z" fill="#892462" stroke="#333" stroke-width="0.5"/>
<path d="M84.81,321.19 L89.19,321.19 L87.00,325.19 Z" fill="#892462" stroke="#333" stroke-width="0.5"/>
<rect x="42.90" y="341.50" width="50.50" height="33.00" fill="#fff" stroke="#555" stroke-width="0.7" />
<text x="46.10" y="348.70" font-size="6.2" text-anchor="start" fill="#222" >Slope</text>
<line x1="47.90" y1="352.80" x2="60.90" y2="352.80" stroke="#333" stroke-width="1.1" />
<text x="63.90" y="354.90" font-size="6.2" text-anchor="start" fill="#666" >:</text>
<text x="67.40" y="354.90" font-size="6.2" text-anchor="start" fill="#222" >-0.0032</text>
<line x1="47.90" y1="360.30" x2="60.90" y2="360.30" stroke="#9b3a7a" stroke-width="1.1" />
<text x="63.90" y="362.40" font-size="6.2" text-anchor="start" fill="#666" >:</text>
<text x="67.40" y="362.40" font-size="6.2" text-anchor="start" fill="#222" >-0.0054</text>
<line x1="47.90" y1="367.80" x2="60.90" y2="367.80" stroke="#7cc0f0" stroke-width="1.1" />
<text x="63.90" y="369.90" font-size="6.2" text-anchor="start" fill="#666" >:</text>
<text x="67.40" y="369.90" font-size="6.2" text-anchor="start" fill="#222" >-0.0052</text>
<line x1="195.10" y1="266.10" x2="249.30" y2="266.10" stroke="#555" stroke-width="0.8" />
<line x1="249.30" y1="266.10" x2="249.30" y2="380.30" stroke="#999" stroke-width="1.0" />
<line x1="195.10" y1="266.10" x2="195.10" y2="380.30" stroke="#444" stroke-width="0.85" />
<line x1="191.80" y1="380.30" x2="195.10" y2="380.30" stroke="#333" stroke-width="0.8" />
<line x1="193.80" y1="373.42" x2="195.10" y2="373.42" stroke="#555" stroke-width="0.5" />
<line x1="196.10" y1="373.42" x2="249.30" y2="373.42" stroke="#e2e2e2" stroke-width="0.5" stroke-dasharray="1.2,1"/>
<line x1="193.80" y1="369.40" x2="195.10" y2="369.40" stroke="#555" stroke-width="0.5" />
<line x1="196.10" y1="369.40" x2="249.30" y2="369.40" stroke="#e2e2e2" stroke-width="0.5" stroke-dasharray="1.2,1"/>
<line x1="193.80" y1="366.55" x2="195.10" y2="366.55" stroke="#555" stroke-width="0.5" />
<line x1="196.10" y1="366.55" x2="249.30" y2="366.55" stroke="#e2e2e2" stroke-width="0.5" stroke-dasharray="1.2,1"/>
<line x1="193.80" y1="364.34" x2="195.10" y2="364.34" stroke="#555" stroke-width="0.5" />
<line x1="196.10" y1="364.34" x2="249.30" y2="364.34" stroke="#e2e2e2" stroke-width="0.5" stroke-dasharray="1.2,1"/>
<line x1="193.80" y1="362.53" x2="195.10" y2="362.53" stroke="#555" stroke-width="0.5" />
<line x1="196.10" y1="362.53" x2="249.30" y2="362.53" stroke="#e2e2e2" stroke-width="0.5" stroke-dasharray="1.2,1"/>
<line x1="193.80" y1="361.00" x2="195.10" y2="361.00" stroke="#555" stroke-width="0.5" />
<line x1="196.10" y1="361.00" x2="249.30" y2="361.00" stroke="#e2e2e2" stroke-width="0.5" stroke-dasharray="1.2,1"/>
<line x1="193.80" y1="359.67" x2="195.10" y2="359.67" stroke="#555" stroke-width="0.5" />
<line x1="196.10" y1="359.67" x2="249.30" y2="359.67" stroke="#e2e2e2" stroke-width="0.5" stroke-dasharray="1.2,1"/>
<line x1="193.80" y1="358.51" x2="195.10" y2="358.51" stroke="#555" stroke-width="0.5" />
<line x1="196.10" y1="358.51" x2="249.30" y2="358.51" stroke="#e2e2e2" stroke-width="0.5" stroke-dasharray="1.2,1"/>
<line x1="191.80" y1="357.46" x2="195.10" y2="357.46" stroke="#333" stroke-width="0.8" />
<line x1="193.80" y1="350.58" x2="195.10" y2="350.58" stroke="#555" stroke-width="0.5" />
<line x1="196.10" y1="350.58" x2="249.30" y2="350.58" stroke="#e2e2e2" stroke-width="0.5" stroke-dasharray="1.2,1"/>
<line x1="193.80" y1="346.56" x2="195.10" y2="346.56" stroke="#555" stroke-width="0.5" />
<line x1="196.10" y1="346.56" x2="249.30" y2="346.56" stroke="#e2e2e2" stroke-width="0.5" stroke-dasharray="1.2,1"/>
<line x1="193.80" y1="343.71" x2="195.10" y2="343.71" stroke="#555" stroke-width="0.5" />
<line x1="196.10" y1="343.71" x2="249.30" y2="343.71" stroke="#e2e2e2" stroke-width="0.5" stroke-dasharray="1.2,1"/>
<line x1="193.80" y1="341.50" x2="195.10" y2="341.50" stroke="#555" stroke-width="0.5" />
<line x1="196.10" y1="341.50" x2="249.30" y2="341.50" stroke="#e2e2e2" stroke-width="0.5" stroke-dasharray="1.2,1"/>
<line x1="193.80" y1="339.69" x2="195.10" y2="339.69" stroke="#555" stroke-width="0.5" />
<line x1="196.10" y1="339.69" x2="249.30" y2="339.69" stroke="#e2e2e2" stroke-width="0.5" stroke-dasharray="1.2,1"/>
<line x1="193.80" y1="338.16" x2="195.10" y2="338.16" stroke="#555" stroke-width="0.5" />
<line x1="196.10" y1="338.16" x2="249.30" y2="338.16" stroke="#e2e2e2" stroke-width="0.5" stroke-dasharray="1.2,1"/>
<line x1="193.80" y1="336.83" x2="195.10" y2="336.83" stroke="#555" stroke-width="0.5" />
<line x1="196.10" y1="336.83" x2="249.30" y2="336.83" stroke="#e2e2e2" stroke-width="0.5" stroke-dasharray="1.2,1"/>
<line x1="193.80" y1="335.67" x2="195.10" y2="335.67" stroke="#555" stroke-width="0.5" />
<line x1="196.10" y1="335.67" x2="249.30" y2="335.67" stroke="#e2e2e2" stroke-width="0.5" stroke-dasharray="1.2,1"/>
<line x1="191.80" y1="334.62" x2="195.10" y2="334.62" stroke="#333" stroke-width="0.8" />
<line x1="193.80" y1="327.74" x2="195.10" y2="327.74" stroke="#555" stroke-width="0.5" />
<line x1="196.10" y1="327.74" x2="249.30" y2="327.74" stroke="#e2e2e2" stroke-width="0.5" stroke-dasharray="1.2,1"/>
<line x1="193.80" y1="323.72" x2="195.10" y2="323.72" stroke="#555" stroke-width="0.5" />
<line x1="196.10" y1="323.72" x2="249.30" y2="323.72" stroke="#e2e2e2" stroke-width="0.5" stroke-dasharray="1.2,1"/>
<line x1="193.80" y1="320.87" x2="195.10" y2="320.87" stroke="#555" stroke-width="0.5" />
<line x1="196.10" y1="320.87" x2="249.30" y2="320.87" stroke="#e2e2e2" stroke-width="0.5" stroke-dasharray="1.2,1"/>
<line x1="193.80" y1="318.66" x2="195.10" y2="318.66" stroke="#555" stroke-width="0.5" />
<line x1="196.10" y1="318.66" x2="249.30" y2="318.66" stroke="#e2e2e2" stroke-width="0.5" stroke-dasharray="1.2,1"/>
<line x1="193.80" y1="316.85" x2="195.10" y2="316.85" stroke="#555" stroke-width="0.5" />
<line x1="196.10" y1="316.85" x2="249.30" y2="316.85" stroke="#e2e2e2" stroke-width="0.5" stroke-dasharray="1.2,1"/>
<line x1="193.80" y1="315.32" x2="195.10" y2="315.32" stroke="#555" stroke-width="0.5" />
<line x1="196.10" y1="315.32" x2="249.30" y2="315.32" stroke="#e2e2e2" stroke-width="0.5" stroke-dasharray="1.2,1"/>
<line x1="193.80" y1="313.99" x2="195.10" y2="313.99" stroke="#555" stroke-width="0.5" />
<line x1="196.10" y1="313.99" x2="249.30" y2="313.99" stroke="#e2e2e2" stroke-width="0.5" stroke-dasharray="1.2,1"/>
<line x1="193.80" y1="312.83" x2="195.10" y2="312.83" stroke="#555" stroke-width="0.5" />
<line x1="196.10" y1="312.83" x2="249.30" y2="312.83" stroke="#e2e2e2" stroke-width="0.5" stroke-dasharray="1.2,1"/>
<line x1="191.80" y1="311.78" x2="195.10" y2="311.78" stroke="#333" stroke-width="0.8" />
<line x1="193.80" y1="304.90" x2="195.10" y2="304.90" stroke="#555" stroke-width="0.5" />
<line x1="196.10" y1="304.90" x2="249.30" y2="304.90" stroke="#e2e2e2" stroke-width="0.5" stroke-dasharray="1.2,1"/>
<line x1="193.80" y1="300.88" x2="195.10" y2="300.88" stroke="#555" stroke-width="0.5" />
<line x1="196.10" y1="300.88" x2="249.30" y2="300.88" stroke="#e2e2e2" stroke-width="0.5" stroke-dasharray="1.2,1"/>
<line x1="193.80" y1="298.03" x2="195.10" y2="298.03" stroke="#555" stroke-width="0.5" />
<line x1="196.10" y1="298.03" x2="249.30" y2="298.03" stroke="#e2e2e2" stroke-width="0.5" stroke-dasharray="1.2,1"/>
<line x1="193.80" y1="295.82" x2="195.10" y2="295.82" stroke="#555" stroke-width="0.5" />
<line x1="196.10" y1="295.82" x2="249.30" y2="295.82" stroke="#e2e2e2" stroke-width="0.5" stroke-dasharray="1.2,1"/>
<line x1="193.80" y1="294.01" x2="195.10" y2="294.01" stroke="#555" stroke-width="0.5" />
<line x1="196.10" y1="294.01" x2="249.30" y2="294.01" stroke="#e2e2e2" stroke-width="0.5" stroke-dasharray="1.2,1"/>
<line x1="193.80" y1="292.48" x2="195.10" y2="292.48" stroke="#555" stroke-width="0.5" />
<line x1="196.10" y1="292.48" x2="249.30" y2="292.48" stroke="#e2e2e2" stroke-width="0.5" stroke-dasharray="1.2,1"/>
<line x1="193.80" y1="291.15" x2="195.10" y2="291.15" stroke="#555" stroke-width="0.5" />
<line x1="196.10" y1="291.15" x2="249.30" y2="291.15" stroke="#e2e2e2" stroke-width="0.5" stroke-dasharray="1.2,1"/>
<line x1="193.80" y1="289.99" x2="195.10" y2="289.99" stroke="#555" stroke-width="0.5" />
<line x1="196.10" y1="289.99" x2="249.30" y2="289.99" stroke="#e2e2e2" stroke-width="0.5" stroke-dasharray="1.2,1"/>
<line x1="191.80" y1="288.94" x2="195.10" y2="288.94" stroke="#333" stroke-width="0.8" />
<line x1="193.80" y1="282.06" x2="195.10" y2="282.06" stroke="#555" stroke-width="0.5" />
<line x1="196.10" y1="282.06" x2="249.30" y2="282.06" stroke="#e2e2e2" stroke-width="0.5" stroke-dasharray="1.2,1"/>
<line x1="193.80" y1="278.04" x2="195.10" y2="278.04" stroke="#555" stroke-width="0.5" />
<line x1="196.10" y1="278.04" x2="249.30" y2="278.04" stroke="#e2e2e2" stroke-width="0.5" stroke-dasharray="1.2,1"/>
<line x1="193.80" y1="275.19" x2="195.10" y2="275.19" stroke="#555" stroke-width="0.5" />
<line x1="196.10" y1="275.19" x2="249.30" y2="275.19" stroke="#e2e2e2" stroke-width="0.5" stroke-dasharray="1.2,1"/>
<line x1="193.80" y1="272.98" x2="195.10" y2="272.98" stroke="#555" stroke-width="0.5" />
<line x1="196.10" y1="272.98" x2="249.30" y2="272.98" stroke="#e2e2e2" stroke-width="0.5" stroke-dasharray="1.2,1"/>
<line x1="193.80" y1="271.17" x2="195.10" y2="271.17" stroke="#555" stroke-width="0.5" />
<line x1="196.10" y1="271.17" x2="249.30" y2="271.17" stroke="#e2e2e2" stroke-width="0.5" stroke-dasharray="1.2,1"/>
<line x1="193.80" y1="269.64" x2="195.10" y2="269.64" stroke="#555" stroke-width="0.5" />
<line x1="196.10" y1="269.64" x2="249.30" y2="269.64" stroke="#e2e2e2" stroke-width="0.5" stroke-dasharray="1.2,1"/>
<line x1="193.80" y1="268.31" x2="195.10" y2="268.31" stroke="#555" stroke-width="0.5" />
<line x1="196.10" y1="268.31" x2="249.30" y2="268.31" stroke="#e2e2e2" stroke-width="0.5" stroke-dasharray="1.2,1"/>
<line x1="193.80" y1="267.15" x2="195.10" y2="267.15" stroke="#555" stroke-width="0.5" />
<line x1="196.10" y1="267.15" x2="249.30" y2="267.15" stroke="#e2e2e2" stroke-width="0.5" stroke-dasharray="1.2,1"/>
<line x1="191.80" y1="266.10" x2="195.10" y2="266.10" stroke="#333" stroke-width="0.8" />
<line x1="195.10" y1="380.30" x2="249.30" y2="380.30" stroke="#333" stroke-width="0.9" />
<text x="219.60" y="253.00" font-size="6.9" text-anchor="middle" fill="#222" textLength="31.2" lengthAdjust="spacingAndGlyphs">&gt;120 days</text>
<text x="219.90" y="262.00" font-size="6.9" text-anchor="middle" fill="#222" textLength="40.2" lengthAdjust="spacingAndGlyphs">post 2<tspan font-size="4.0" dy="-2.8">nd</tspan><tspan dy="2.8"> dose</tspan></text>
<rect x="199.10" y="298.00" width="8.10" height="82.30" fill="#fff" stroke="#222" stroke-width="0.7" />
<circle cx="203.50" cy="299.50" r="1.8" fill="#fff" stroke="#333" stroke-width="0.55"/>
<circle cx="205.50" cy="301.00" r="1.8" fill="#fff" stroke="#333" stroke-width="0.55"/>
<circle cx="202.00" cy="303.00" r="1.8" fill="#fff" stroke="#333" stroke-width="0.55"/>
<circle cx="204.50" cy="304.50" r="1.8" fill="#fff" stroke="#333" stroke-width="0.55"/>
<circle cx="203.00" cy="306.80" r="1.8" fill="#fff" stroke="#333" stroke-width="0.55"/>
<circle cx="205.20" cy="308.00" r="1.8" fill="#fff" stroke="#333" stroke-width="0.55"/>
<circle cx="202.50" cy="310.20" r="1.8" fill="#fff" stroke="#333" stroke-width="0.55"/>
<circle cx="204.60" cy="312.00" r="1.8" fill="#fff" stroke="#333" stroke-width="0.55"/>
<circle cx="203.00" cy="314.00" r="1.8" fill="#fff" stroke="#333" stroke-width="0.55"/>
<circle cx="205.00" cy="316.00" r="1.8" fill="#fff" stroke="#333" stroke-width="0.55"/>
<circle cx="203.50" cy="318.50" r="1.8" fill="#fff" stroke="#333" stroke-width="0.55"/>
<circle cx="206.00" cy="300.30" r="1.8" fill="#fff" stroke="#333" stroke-width="0.55"/>
<rect x="211.90" y="294.30" width="8.40" height="86.00" fill="#892462" stroke="#222" stroke-width="0.7" />
<line x1="216.10" y1="285.70" x2="216.10" y2="294.30" stroke="#222" stroke-width="0.7" />
<line x1="214.50" y1="285.70" x2="217.70" y2="285.70" stroke="#222" stroke-width="0.7" />
<line x1="214.50" y1="294.30" x2="217.70" y2="294.30" stroke="#222" stroke-width="0.7" />
<path d="M214.2,285.0 L218.2,285.0 L216.2,288.6 Z" fill="#fff" stroke="#333" stroke-width="0.55"/>
<circle cx="216.20" cy="299.10" r="1.8" fill="#fff" stroke="#333" stroke-width="0.55"/>
<circle cx="216.20" cy="306.80" r="1.8" fill="#fff" stroke="#333" stroke-width="0.55"/>
<rect x="224.30" y="294.80" width="8.20" height="85.50" fill="#62aaea" stroke="#222" stroke-width="0.7" />
<line x1="228.40" y1="288.60" x2="228.40" y2="294.80" stroke="#222" stroke-width="0.7" />
<line x1="226.80" y1="288.60" x2="230.00" y2="288.60" stroke="#222" stroke-width="0.7" />
<line x1="226.80" y1="294.80" x2="230.00" y2="294.80" stroke="#222" stroke-width="0.7" />
<circle cx="226.70" cy="285.70" r="1.8" fill="#fff" stroke="#333" stroke-width="0.55"/>
<circle cx="230.80" cy="285.70" r="1.8" fill="#fff" stroke="#333" stroke-width="0.55"/>
<circle cx="228.10" cy="289.30" r="1.8" fill="#fff" stroke="#333" stroke-width="0.55"/>
<circle cx="228.30" cy="301.80" r="1.8" fill="#fff" stroke="#333" stroke-width="0.55"/>
<circle cx="226.00" cy="306.80" r="1.8" fill="#fff" stroke="#333" stroke-width="0.55"/>
<circle cx="230.80" cy="308.80" r="1.8" fill="#fff" stroke="#333" stroke-width="0.55"/>
<circle cx="228.30" cy="310.20" r="1.8" fill="#fff" stroke="#333" stroke-width="0.55"/>
<circle cx="228.30" cy="314.20" r="1.8" fill="#fff" stroke="#333" stroke-width="0.55"/>
<rect x="236.80" y="291.30" width="8.10" height="89.00" fill="#2f4394" stroke="#222" stroke-width="0.7" />
<line x1="240.85" y1="285.30" x2="240.85" y2="291.30" stroke="#222" stroke-width="0.7" />
<line x1="239.25" y1="285.30" x2="242.45" y2="285.30" stroke="#222" stroke-width="0.7" />
<line x1="239.25" y1="291.30" x2="242.45" y2="291.30" stroke="#222" stroke-width="0.7" />
<circle cx="240.90" cy="272.20" r="1.8" fill="#fff" stroke="#333" stroke-width="0.55"/>
<circle cx="238.60" cy="301.40" r="1.8" fill="#fff" stroke="#333" stroke-width="0.55"/>
<circle cx="243.30" cy="302.10" r="1.8" fill="#fff" stroke="#333" stroke-width="0.55"/>
<circle cx="240.90" cy="306.50" r="1.8" fill="#fff" stroke="#333" stroke-width="0.55"/>
<circle cx="240.90" cy="310.20" r="1.8" fill="#fff" stroke="#333" stroke-width="0.55"/>
<circle cx="238.60" cy="314.20" r="1.8" fill="#fff" stroke="#333" stroke-width="0.55"/>
<circle cx="243.30" cy="317.20" r="1.8" fill="#fff" stroke="#333" stroke-width="0.55"/>
<text x="205.80" y="386.80" font-size="6.4" text-anchor="end" fill="#222" transform="rotate(-45 205.8 386.8)" >HD</text>
<text x="216.80" y="386.80" font-size="6.4" text-anchor="end" fill="#222" transform="rotate(-45 216.8 386.8)" >IRF7/TLR7/IFNAR1<tspan font-size="3.4" dy="-2.6">LOF</tspan></text>
<text x="229.80" y="386.80" font-size="6.4" text-anchor="end" fill="#222" transform="rotate(-45 229.8 386.8)" >APS-1</text>
<text x="242.80" y="386.80" font-size="6.4" text-anchor="end" fill="#222" transform="rotate(-45 242.8 386.8)" >AAB</text>
<text x="267.90" y="232.00" font-size="13.2" text-anchor="start" fill="#111" >C</text>
<circle cx="321.00" cy="234.50" r="2.6" fill="#ffffff" stroke="#333" stroke-width="0.6"/>
<text x="326.20" y="236.70" font-size="6.3" text-anchor="start" fill="#222" >HD</text>
<circle cx="321.00" cy="244.30" r="2.6" fill="#82c24e" stroke="#333" stroke-width="0.6"/>
<text x="326.20" y="246.50" font-size="6.3" text-anchor="start" fill="#222" >YD</text>
<rect x="347.50" y="232.00" width="5.00" height="5.00" fill="#892462" stroke="#333" stroke-width="0.5" />
<text x="355.20" y="236.70" font-size="6.3" text-anchor="start" fill="#222" >IRF7<tspan font-size="3.6" dy="-2.7">LOF</tspan></text>
<path d="M347.12,246.68 L352.88,246.68 L350.00,241.43 Z" fill="#892462" stroke="#333" stroke-width="0.5"/>
<text x="355.20" y="246.50" font-size="6.3" text-anchor="start" fill="#222" >TLR7<tspan font-size="3.6" dy="-2.7">LOF</tspan></text>
<path d="M347.12,251.72 L352.88,251.72 L350.00,256.98 Z" fill="#892462" stroke="#333" stroke-width="0.5"/>
<text x="355.20" y="256.30" font-size="6.3" text-anchor="start" fill="#222" >IFNAR1<tspan font-size="3.6" dy="-2.7">LOF</tspan></text>
<circle cx="395.00" cy="234.50" r="2.6" fill="#62aaea" stroke="#333" stroke-width="0.6"/>
<text x="399.30" y="236.70" font-size="6.3" text-anchor="start" fill="#222" >APS-1</text>
<circle cx="395.00" cy="244.30" r="2.6" fill="#2f4394" stroke="#222" stroke-width="0.6"/>
<text x="399.30" y="246.50" font-size="6.3" text-anchor="start" fill="#222" >AAB</text>
<line x1="300.30" y1="264.40" x2="443.80" y2="264.40" stroke="#555" stroke-width="0.8" />
<line x1="443.80" y1="264.40" x2="443.80" y2="379.00" stroke="#999" stroke-width="1.0" />
<line x1="300.30" y1="264.40" x2="300.30" y2="379.00" stroke="#444" stroke-width="0.85" />
<line x1="297.00" y1="379.00" x2="300.30" y2="379.00" stroke="#333" stroke-width="0.8" />
<line x1="299.00" y1="367.50" x2="300.30" y2="367.50" stroke="#555" stroke-width="0.5" />
<line x1="301.30" y1="367.50" x2="443.80" y2="367.50" stroke="#e2e2e2" stroke-width="0.5" stroke-dasharray="1.2,1"/>
<line x1="299.00" y1="360.77" x2="300.30" y2="360.77" stroke="#555" stroke-width="0.5" />
<line x1="301.30" y1="360.77" x2="443.80" y2="360.77" stroke="#e2e2e2" stroke-width="0.5" stroke-dasharray="1.2,1"/>
<line x1="299.00" y1="356.00" x2="300.30" y2="356.00" stroke="#555" stroke-width="0.5" />
<line x1="301.30" y1="356.00" x2="443.80" y2="356.00" stroke="#e2e2e2" stroke-width="0.5" stroke-dasharray="1.2,1"/>
<line x1="299.00" y1="352.30" x2="300.30" y2="352.30" stroke="#555" stroke-width="0.5" />
<line x1="301.30" y1="352.30" x2="443.80" y2="352.30" stroke="#e2e2e2" stroke-width="0.5" stroke-dasharray="1.2,1"/>
<line x1="299.00" y1="349.27" x2="300.30" y2="349.27" stroke="#555" stroke-width="0.5" />
<line x1="301.30" y1="349.27" x2="443.80" y2="349.27" stroke="#e2e2e2" stroke-width="0.5" stroke-dasharray="1.2,1"/>
<line x1="299.00" y1="346.72" x2="300.30" y2="346.72" stroke="#555" stroke-width="0.5" />
<line x1="301.30" y1="346.72" x2="443.80" y2="346.72" stroke="#e2e2e2" stroke-width="0.5" stroke-dasharray="1.2,1"/>
<line x1="299.00" y1="344.50" x2="300.30" y2="344.50" stroke="#555" stroke-width="0.5" />
<line x1="301.30" y1="344.50" x2="443.80" y2="344.50" stroke="#e2e2e2" stroke-width="0.5" stroke-dasharray="1.2,1"/>
<line x1="299.00" y1="342.55" x2="300.30" y2="342.55" stroke="#555" stroke-width="0.5" />
<line x1="301.30" y1="342.55" x2="443.80" y2="342.55" stroke="#e2e2e2" stroke-width="0.5" stroke-dasharray="1.2,1"/>
<line x1="297.00" y1="340.80" x2="300.30" y2="340.80" stroke="#333" stroke-width="0.8" />
<line x1="299.00" y1="329.30" x2="300.30" y2="329.30" stroke="#555" stroke-width="0.5" />
<line x1="301.30" y1="329.30" x2="443.80" y2="329.30" stroke="#e2e2e2" stroke-width="0.5" stroke-dasharray="1.2,1"/>
<line x1="299.00" y1="322.57" x2="300.30" y2="322.57" stroke="#555" stroke-width="0.5" />
<line x1="301.30" y1="322.57" x2="443.80" y2="322.57" stroke="#e2e2e2" stroke-width="0.5" stroke-dasharray="1.2,1"/>
<line x1="299.00" y1="317.80" x2="300.30" y2="317.80" stroke="#555" stroke-width="0.5" />
<line x1="301.30" y1="317.80" x2="443.80" y2="317.80" stroke="#e2e2e2" stroke-width="0.5" stroke-dasharray="1.2,1"/>
<line x1="299.00" y1="314.10" x2="300.30" y2="314.10" stroke="#555" stroke-width="0.5" />
<line x1="301.30" y1="314.10" x2="443.80" y2="314.10" stroke="#e2e2e2" stroke-width="0.5" stroke-dasharray="1.2,1"/>
<line x1="299.00" y1="311.07" x2="300.30" y2="311.07" stroke="#555" stroke-width="0.5" />
<line x1="301.30" y1="311.07" x2="443.80" y2="311.07" stroke="#e2e2e2" stroke-width="0.5" stroke-dasharray="1.2,1"/>
<line x1="299.00" y1="308.52" x2="300.30" y2="308.52" stroke="#555" stroke-width="0.5" />
<line x1="301.30" y1="308.52" x2="443.80" y2="308.52" stroke="#e2e2e2" stroke-width="0.5" stroke-dasharray="1.2,1"/>
<line x1="299.00" y1="306.30" x2="300.30" y2="306.30" stroke="#555" stroke-width="0.5" />
<line x1="301.30" y1="306.30" x2="443.80" y2="306.30" stroke="#e2e2e2" stroke-width="0.5" stroke-dasharray="1.2,1"/>
<line x1="299.00" y1="304.35" x2="300.30" y2="304.35" stroke="#555" stroke-width="0.5" />
<line x1="301.30" y1="304.35" x2="443.80" y2="304.35" stroke="#e2e2e2" stroke-width="0.5" stroke-dasharray="1.2,1"/>
<line x1="297.00" y1="302.60" x2="300.30" y2="302.60" stroke="#333" stroke-width="0.8" />
<line x1="299.00" y1="291.10" x2="300.30" y2="291.10" stroke="#555" stroke-width="0.5" />
<line x1="301.30" y1="291.10" x2="443.80" y2="291.10" stroke="#e2e2e2" stroke-width="0.5" stroke-dasharray="1.2,1"/>
<line x1="299.00" y1="284.37" x2="300.30" y2="284.37" stroke="#555" stroke-width="0.5" />
<line x1="301.30" y1="284.37" x2="443.80" y2="284.37" stroke="#e2e2e2" stroke-width="0.5" stroke-dasharray="1.2,1"/>
<line x1="299.00" y1="279.60" x2="300.30" y2="279.60" stroke="#555" stroke-width="0.5" />
<line x1="301.30" y1="279.60" x2="443.80" y2="279.60" stroke="#e2e2e2" stroke-width="0.5" stroke-dasharray="1.2,1"/>
<line x1="299.00" y1="275.90" x2="300.30" y2="275.90" stroke="#555" stroke-width="0.5" />
<line x1="301.30" y1="275.90" x2="443.80" y2="275.90" stroke="#e2e2e2" stroke-width="0.5" stroke-dasharray="1.2,1"/>
<line x1="299.00" y1="272.87" x2="300.30" y2="272.87" stroke="#555" stroke-width="0.5" />
<line x1="301.30" y1="272.87" x2="443.80" y2="272.87" stroke="#e2e2e2" stroke-width="0.5" stroke-dasharray="1.2,1"/>
<line x1="299.00" y1="270.32" x2="300.30" y2="270.32" stroke="#555" stroke-width="0.5" />
<line x1="301.30" y1="270.32" x2="443.80" y2="270.32" stroke="#e2e2e2" stroke-width="0.5" stroke-dasharray="1.2,1"/>
<line x1="299.00" y1="268.10" x2="300.30" y2="268.10" stroke="#555" stroke-width="0.5" />
<line x1="301.30" y1="268.10" x2="443.80" y2="268.10" stroke="#e2e2e2" stroke-width="0.5" stroke-dasharray="1.2,1"/>
<line x1="299.00" y1="266.15" x2="300.30" y2="266.15" stroke="#555" stroke-width="0.5" />
<line x1="301.30" y1="266.15" x2="443.80" y2="266.15" stroke="#e2e2e2" stroke-width="0.5" stroke-dasharray="1.2,1"/>
<line x1="297.00" y1="264.40" x2="300.30" y2="264.40" stroke="#333" stroke-width="0.8" />
<text x="0" y="0" font-size="6.6" text-anchor="end" fill="#222" transform="translate(295.60 266.50) scale(0.91 1)" >100</text>
<text x="0" y="0" font-size="6.6" text-anchor="end" fill="#222" transform="translate(295.60 304.70) scale(0.91 1)" >10</text>
<text x="0" y="0" font-size="6.6" text-anchor="end" fill="#222" transform="translate(295.60 342.90) scale(0.91 1)" >1</text>
<text x="0" y="0" font-size="6.6" text-anchor="end" fill="#222" transform="translate(295.60 381.10) scale(0.91 1)" >0.1</text>
<line x1="300.30" y1="379.00" x2="443.80" y2="379.00" stroke="#444" stroke-width="0.85" />
<line x1="300.30" y1="379.00" x2="300.30" y2="382.00" stroke="#333" stroke-width="0.8" />
<line x1="305.08" y1="379.00" x2="305.08" y2="380.30" stroke="#555" stroke-width="0.5" />
<line x1="309.87" y1="379.00" x2="309.87" y2="380.30" stroke="#555" stroke-width="0.5" />
<line x1="314.65" y1="379.00" x2="314.65" y2="380.30" stroke="#555" stroke-width="0.5" />
<line x1="319.43" y1="379.00" x2="319.43" y2="380.30" stroke="#555" stroke-width="0.5" />
<line x1="324.22" y1="379.00" x2="324.22" y2="380.30" stroke="#555" stroke-width="0.5" />
<line x1="329.00" y1="379.00" x2="329.00" y2="380.30" stroke="#555" stroke-width="0.5" />
<line x1="333.78" y1="379.00" x2="333.78" y2="380.30" stroke="#555" stroke-width="0.5" />
<line x1="338.57" y1="379.00" x2="338.57" y2="380.30" stroke="#555" stroke-width="0.5" />
<line x1="343.35" y1="379.00" x2="343.35" y2="380.30" stroke="#555" stroke-width="0.5" />
<line x1="348.13" y1="379.00" x2="348.13" y2="382.00" stroke="#333" stroke-width="0.8" />
<line x1="352.92" y1="379.00" x2="352.92" y2="380.30" stroke="#555" stroke-width="0.5" />
<line x1="357.70" y1="379.00" x2="357.70" y2="380.30" stroke="#555" stroke-width="0.5" />
<line x1="362.48" y1="379.00" x2="362.48" y2="380.30" stroke="#555" stroke-width="0.5" />
<line x1="367.27" y1="379.00" x2="367.27" y2="380.30" stroke="#555" stroke-width="0.5" />
<line x1="372.05" y1="379.00" x2="372.05" y2="380.30" stroke="#555" stroke-width="0.5" />
<line x1="376.83" y1="379.00" x2="376.83" y2="380.30" stroke="#555" stroke-width="0.5" />
<line x1="381.62" y1="379.00" x2="381.62" y2="380.30" stroke="#555" stroke-width="0.5" />
<line x1="386.40" y1="379.00" x2="386.40" y2="380.30" stroke="#555" stroke-width="0.5" />
<line x1="391.18" y1="379.00" x2="391.18" y2="380.30" stroke="#555" stroke-width="0.5" />
<line x1="395.97" y1="379.00" x2="395.97" y2="382.00" stroke="#333" stroke-width="0.8" />
<line x1="400.75" y1="379.00" x2="400.75" y2="380.30" stroke="#555" stroke-width="0.5" />
<line x1="405.53" y1="379.00" x2="405.53" y2="380.30" stroke="#555" stroke-width="0.5" />
<line x1="410.32" y1="379.00" x2="410.32" y2="380.30" stroke="#555" stroke-width="0.5" />
<line x1="415.10" y1="379.00" x2="415.10" y2="380.30" stroke="#555" stroke-width="0.5" />
<line x1="419.88" y1="379.00" x2="419.88" y2="380.30" stroke="#555" stroke-width="0.5" />
<line x1="424.67" y1="379.00" x2="424.67" y2="380.30" stroke="#555" stroke-width="0.5" />
<line x1="429.45" y1="379.00" x2="429.45" y2="380.30" stroke="#555" stroke-width="0.5" />
<line x1="434.23" y1="379.00" x2="434.23" y2="380.30" stroke="#555" stroke-width="0.5" />
<line x1="439.02" y1="379.00" x2="439.02" y2="380.30" stroke="#555" stroke-width="0.5" />
<line x1="443.80" y1="379.00" x2="443.80" y2="382.00" stroke="#333" stroke-width="0.8" />
<text x="0" y="0" font-size="6.6" text-anchor="middle" fill="#222" transform="translate(300.30 389.60) scale(0.93 1)" >0</text>
<text x="0" y="0" font-size="6.6" text-anchor="middle" fill="#222" transform="translate(348.13 389.60) scale(0.93 1)" >100</text>
<text x="0" y="0" font-size="6.6" text-anchor="middle" fill="#222" transform="translate(395.97 389.60) scale(0.93 1)" >200</text>
<text x="0" y="0" font-size="6.6" text-anchor="middle" fill="#222" transform="translate(442.00 389.60) scale(0.93 1)" >300</text>
<line x1="301.30" y1="340.90" x2="443.80" y2="340.90" stroke="#999" stroke-width="1.1" stroke-dasharray="3.6,2.4"/>
<text x="374.50" y="403.20" font-size="7.6" text-anchor="middle" fill="#222" >Days post 2<tspan font-size="4.4" dy="-3">nd</tspan><tspan dy="3"> dose</tspan></text>
<text x="277.90" y="320.60" font-size="7.55" text-anchor="middle" fill="#222" transform="rotate(-90 277.9 320.6)" >Anti-RBD IgA titers (A.U./ml)</text>
<line x1="325.60" y1="321.20" x2="442.30" y2="330.60" stroke="#333" stroke-width="0.8" />
<line x1="314.10" y1="312.20" x2="395.00" y2="311.10" stroke="#9b3a7a" stroke-width="0.9" />
<line x1="314.10" y1="307.50" x2="399.60" y2="317.40" stroke="#7cc0f0" stroke-width="0.9" />
<circle cx="326.90" cy="304.50" r="1.9" fill="#ffffff" stroke="#333" stroke-width="0.6"/>
<circle cx="327.60" cy="310.20" r="1.9" fill="#ffffff" stroke="#333" stroke-width="0.6"/>
<circle cx="326.90" cy="313.60" r="1.9" fill="#ffffff" stroke="#333" stroke-width="0.6"/>
<circle cx="334.30" cy="313.10" r="1.9" fill="#ffffff" stroke="#333" stroke-width="0.6"/>
<circle cx="337.70" cy="315.20" r="1.9" fill="#ffffff" stroke="#333" stroke-width="0.6"/>
<circle cx="324.90" cy="321.90" r="1.9" fill="#ffffff" stroke="#333" stroke-width="0.6"/>
<circle cx="328.50" cy="324.70" r="1.9" fill="#ffffff" stroke="#333" stroke-width="0.6"/>
<circle cx="338.60" cy="326.30" r="1.9" fill="#ffffff" stroke="#333" stroke-width="0.6"/>
<circle cx="324.90" cy="333.10" r="1.9" fill="#ffffff" stroke="#333" stroke-width="0.6"/>
<circle cx="328.90" cy="332.80" r="1.9" fill="#ffffff" stroke="#333" stroke-width="0.6"/>
<circle cx="355.90" cy="321.90" r="1.9" fill="#ffffff" stroke="#333" stroke-width="0.6"/>
<circle cx="388.80" cy="308.50" r="1.9" fill="#ffffff" stroke="#333" stroke-width="0.6"/>
<circle cx="397.60" cy="309.50" r="1.9" fill="#ffffff" stroke="#333" stroke-width="0.6"/>
<circle cx="400.10" cy="324.20" r="1.9" fill="#ffffff" stroke="#333" stroke-width="0.6"/>
<circle cx="413.50" cy="328.00" r="1.9" fill="#ffffff" stroke="#333" stroke-width="0.6"/>
<circle cx="441.90" cy="324.60" r="1.9" fill="#ffffff" stroke="#333" stroke-width="0.6"/>
<circle cx="405.80" cy="333.80" r="1.9" fill="#ffffff" stroke="#333" stroke-width="0.6"/>
<circle cx="406.20" cy="336.90" r="1.9" fill="#ffffff" stroke="#333" stroke-width="0.6"/>
<circle cx="413.90" cy="335.70" r="1.9" fill="#ffffff" stroke="#333" stroke-width="0.6"/>
<circle cx="392.70" cy="339.20" r="1.9" fill="#ffffff" stroke="#333" stroke-width="0.6"/>
<circle cx="403.50" cy="344.90" r="1.9" fill="#ffffff" stroke="#333" stroke-width="0.6"/>
<circle cx="405.80" cy="346.90" r="1.9" fill="#ffffff" stroke="#333" stroke-width="0.6"/>
<circle cx="413.90" cy="344.60" r="1.9" fill="#ffffff" stroke="#333" stroke-width="0.6"/>
<circle cx="400.80" cy="350.00" r="1.9" fill="#ffffff" stroke="#333" stroke-width="0.6"/>
<circle cx="327.30" cy="328.00" r="1.9" fill="#82c24e" stroke="#333" stroke-width="0.6"/>
<circle cx="332.30" cy="327.30" r="1.9" fill="#82c24e" stroke="#333" stroke-width="0.6"/>
<circle cx="327.30" cy="339.10" r="1.9" fill="#82c24e" stroke="#333" stroke-width="0.6"/>
<circle cx="313.90" cy="303.90" r="1.9" fill="#2f4394" stroke="#222" stroke-width="0.6"/>
<circle cx="361.50" cy="357.30" r="1.9" fill="#2f4394" stroke="#222" stroke-width="0.6"/>
<circle cx="384.70" cy="302.60" r="1.9" fill="#2f4394" stroke="#222" stroke-width="0.6"/>
<circle cx="386.50" cy="305.40" r="1.9" fill="#2f4394" stroke="#222" stroke-width="0.6"/>
<circle cx="391.50" cy="318.20" r="1.9" fill="#2f4394" stroke="#222" stroke-width="0.6"/>
<circle cx="386.50" cy="333.80" r="1.9" fill="#2f4394" stroke="#222" stroke-width="0.6"/>
<circle cx="371.20" cy="358.20" r="1.9" fill="#2f4394" stroke="#222" stroke-width="0.6"/>
<circle cx="383.20" cy="354.60" r="1.9" fill="#2f4394" stroke="#222" stroke-width="0.6"/>
<circle cx="391.90" cy="356.20" r="1.9" fill="#2f4394" stroke="#222" stroke-width="0.6"/>
<circle cx="313.90" cy="302.80" r="1.9" fill="#62aaea" stroke="#333" stroke-width="0.6"/>
<circle cx="314.10" cy="314.20" r="1.9" fill="#62aaea" stroke="#333" stroke-width="0.6"/>
<circle cx="317.10" cy="312.90" r="1.9" fill="#62aaea" stroke="#333" stroke-width="0.6"/>
<circle cx="318.80" cy="319.20" r="1.9" fill="#62aaea" stroke="#333" stroke-width="0.6"/>
<circle cx="342.80" cy="306.80" r="1.9" fill="#62aaea" stroke="#333" stroke-width="0.6"/>
<circle cx="346.40" cy="312.50" r="1.9" fill="#62aaea" stroke="#333" stroke-width="0.6"/>
<circle cx="366.90" cy="308.40" r="1.9" fill="#62aaea" stroke="#333" stroke-width="0.6"/>
<circle cx="366.90" cy="368.70" r="1.9" fill="#62aaea" stroke="#333" stroke-width="0.6"/>
<circle cx="388.50" cy="303.50" r="1.9" fill="#62aaea" stroke="#333" stroke-width="0.6"/>
<circle cx="399.60" cy="308.80" r="1.9" fill="#62aaea" stroke="#333" stroke-width="0.6"/>
<circle cx="387.80" cy="313.80" r="1.9" fill="#62aaea" stroke="#333" stroke-width="0.6"/>
<circle cx="394.70" cy="324.30" r="1.9" fill="#62aaea" stroke="#333" stroke-width="0.6"/>
<circle cx="378.80" cy="330.80" r="1.9" fill="#62aaea" stroke="#333" stroke-width="0.6"/>
<circle cx="395.00" cy="343.80" r="1.9" fill="#62aaea" stroke="#333" stroke-width="0.6"/>
<rect x="311.60" y="306.30" width="3.80" height="3.80" fill="#892462" stroke="#333" stroke-width="0.5" />
<rect x="352.90" y="300.90" width="3.80" height="3.80" fill="#892462" stroke="#333" stroke-width="0.5" />
<rect x="392.80" y="301.20" width="3.80" height="3.80" fill="#892462" stroke="#333" stroke-width="0.5" />
<path d="M382.01,334.11 L386.38,334.11 L384.20,330.12 Z" fill="#892462" stroke="#333" stroke-width="0.5"/>
<path d="M345.81,351.89 L350.19,351.89 L348.00,355.88 Z" fill="#892462" stroke="#333" stroke-width="0.5"/>
<path d="M365.81,309.69 L370.19,309.69 L368.00,313.69 Z" fill="#892462" stroke="#333" stroke-width="0.5"/>
<rect x="391.50" y="267.50" width="49.00" height="32.30" fill="#fff" stroke="#555" stroke-width="0.7" />
<text x="394.70" y="274.70" font-size="6.2" text-anchor="start" fill="#222" >Slope</text>
<line x1="396.50" y1="278.80" x2="409.50" y2="278.80" stroke="#333" stroke-width="1.1" />
<text x="412.50" y="280.90" font-size="6.2" text-anchor="start" fill="#666" >:</text>
<text x="416.00" y="280.90" font-size="6.2" text-anchor="start" fill="#222" >-0.001</text>
<line x1="396.50" y1="286.30" x2="409.50" y2="286.30" stroke="#9b3a7a" stroke-width="1.1" />
<text x="412.50" y="288.40" font-size="6.2" text-anchor="start" fill="#666" >:</text>
<text x="416.00" y="288.40" font-size="6.2" text-anchor="start" fill="#222" >0.0002</text>
<line x1="396.50" y1="293.80" x2="409.50" y2="293.80" stroke="#7cc0f0" stroke-width="1.1" />
<text x="412.50" y="295.90" font-size="6.2" text-anchor="start" fill="#666" >:</text>
<text x="416.00" y="295.90" font-size="6.2" text-anchor="start" fill="#222" >-0.001</text>
<line x1="455.60" y1="264.40" x2="510.80" y2="264.40" stroke="#555" stroke-width="0.8" />
<line x1="510.80" y1="264.40" x2="510.80" y2="379.00" stroke="#999" stroke-width="1.0" />
<line x1="455.60" y1="264.40" x2="455.60" y2="379.00" stroke="#444" stroke-width="0.85" />
<line x1="452.30" y1="379.00" x2="455.60" y2="379.00" stroke="#333" stroke-width="0.8" />
<line x1="454.30" y1="367.50" x2="455.60" y2="367.50" stroke="#555" stroke-width="0.5" />
<line x1="456.60" y1="367.50" x2="510.80" y2="367.50" stroke="#e2e2e2" stroke-width="0.5" stroke-dasharray="1.2,1"/>
<line x1="454.30" y1="360.77" x2="455.60" y2="360.77" stroke="#555" stroke-width="0.5" />
<line x1="456.60" y1="360.77" x2="510.80" y2="360.77" stroke="#e2e2e2" stroke-width="0.5" stroke-dasharray="1.2,1"/>
<line x1="454.30" y1="356.00" x2="455.60" y2="356.00" stroke="#555" stroke-width="0.5" />
<line x1="456.60" y1="356.00" x2="510.80" y2="356.00" stroke="#e2e2e2" stroke-width="0.5" stroke-dasharray="1.2,1"/>
<line x1="454.30" y1="352.30" x2="455.60" y2="352.30" stroke="#555" stroke-width="0.5" />
<line x1="456.60" y1="352.30" x2="510.80" y2="352.30" stroke="#e2e2e2" stroke-width="0.5" stroke-dasharray="1.2,1"/>
<line x1="454.30" y1="349.27" x2="455.60" y2="349.27" stroke="#555" stroke-width="0.5" />
<line x1="456.60" y1="349.27" x2="510.80" y2="349.27" stroke="#e2e2e2" stroke-width="0.5" stroke-dasharray="1.2,1"/>
<line x1="454.30" y1="346.72" x2="455.60" y2="346.72" stroke="#555" stroke-width="0.5" />
<line x1="456.60" y1="346.72" x2="510.80" y2="346.72" stroke="#e2e2e2" stroke-width="0.5" stroke-dasharray="1.2,1"/>
<line x1="454.30" y1="344.50" x2="455.60" y2="344.50" stroke="#555" stroke-width="0.5" />
<line x1="456.60" y1="344.50" x2="510.80" y2="344.50" stroke="#e2e2e2" stroke-width="0.5" stroke-dasharray="1.2,1"/>
<line x1="454.30" y1="342.55" x2="455.60" y2="342.55" stroke="#555" stroke-width="0.5" />
<line x1="456.60" y1="342.55" x2="510.80" y2="342.55" stroke="#e2e2e2" stroke-width="0.5" stroke-dasharray="1.2,1"/>
<line x1="452.30" y1="340.80" x2="455.60" y2="340.80" stroke="#333" stroke-width="0.8" />
<line x1="454.30" y1="329.30" x2="455.60" y2="329.30" stroke="#555" stroke-width="0.5" />
<line x1="456.60" y1="329.30" x2="510.80" y2="329.30" stroke="#e2e2e2" stroke-width="0.5" stroke-dasharray="1.2,1"/>
<line x1="454.30" y1="322.57" x2="455.60" y2="322.57" stroke="#555" stroke-width="0.5" />
<line x1="456.60" y1="322.57" x2="510.80" y2="322.57" stroke="#e2e2e2" stroke-width="0.5" stroke-dasharray="1.2,1"/>
<line x1="454.30" y1="317.80" x2="455.60" y2="317.80" stroke="#555" stroke-width="0.5" />
<line x1="456.60" y1="317.80" x2="510.80" y2="317.80" stroke="#e2e2e2" stroke-width="0.5" stroke-dasharray="1.2,1"/>
<line x1="454.30" y1="314.10" x2="455.60" y2="314.10" stroke="#555" stroke-width="0.5" />
<line x1="456.60" y1="314.10" x2="510.80" y2="314.10" stroke="#e2e2e2" stroke-width="0.5" stroke-dasharray="1.2,1"/>
<line x1="454.30" y1="311.07" x2="455.60" y2="311.07" stroke="#555" stroke-width="0.5" />
<line x1="456.60" y1="311.07" x2="510.80" y2="311.07" stroke="#e2e2e2" stroke-width="0.5" stroke-dasharray="1.2,1"/>
<line x1="454.30" y1="308.52" x2="455.60" y2="308.52" stroke="#555" stroke-width="0.5" />
<line x1="456.60" y1="308.52" x2="510.80" y2="308.52" stroke="#e2e2e2" stroke-width="0.5" stroke-dasharray="1.2,1"/>
<line x1="454.30" y1="306.30" x2="455.60" y2="306.30" stroke="#555" stroke-width="0.5" />
<line x1="456.60" y1="306.30" x2="510.80" y2="306.30" stroke="#e2e2e2" stroke-width="0.5" stroke-dasharray="1.2,1"/>
<line x1="454.30" y1="304.35" x2="455.60" y2="304.35" stroke="#555" stroke-width="0.5" />
<line x1="456.60" y1="304.35" x2="510.80" y2="304.35" stroke="#e2e2e2" stroke-width="0.5" stroke-dasharray="1.2,1"/>
<line x1="452.30" y1="302.60" x2="455.60" y2="302.60" stroke="#333" stroke-width="0.8" />
<line x1="454.30" y1="291.10" x2="455.60" y2="291.10" stroke="#555" stroke-width="0.5" />
<line x1="456.60" y1="291.10" x2="510.80" y2="291.10" stroke="#e2e2e2" stroke-width="0.5" stroke-dasharray="1.2,1"/>
<line x1="454.30" y1="284.37" x2="455.60" y2="284.37" stroke="#555" stroke-width="0.5" />
<line x1="456.60" y1="284.37" x2="510.80" y2="284.37" stroke="#e2e2e2" stroke-width="0.5" stroke-dasharray="1.2,1"/>
<line x1="454.30" y1="279.60" x2="455.60" y2="279.60" stroke="#555" stroke-width="0.5" />
<line x1="456.60" y1="279.60" x2="510.80" y2="279.60" stroke="#e2e2e2" stroke-width="0.5" stroke-dasharray="1.2,1"/>
<line x1="454.30" y1="275.90" x2="455.60" y2="275.90" stroke="#555" stroke-width="0.5" />
<line x1="456.60" y1="275.90" x2="510.80" y2="275.90" stroke="#e2e2e2" stroke-width="0.5" stroke-dasharray="1.2,1"/>
<line x1="454.30" y1="272.87" x2="455.60" y2="272.87" stroke="#555" stroke-width="0.5" />
<line x1="456.60" y1="272.87" x2="510.80" y2="272.87" stroke="#e2e2e2" stroke-width="0.5" stroke-dasharray="1.2,1"/>
<line x1="454.30" y1="270.32" x2="455.60" y2="270.32" stroke="#555" stroke-width="0.5" />
<line x1="456.60" y1="270.32" x2="510.80" y2="270.32" stroke="#e2e2e2" stroke-width="0.5" stroke-dasharray="1.2,1"/>
<line x1="454.30" y1="268.10" x2="455.60" y2="268.10" stroke="#555" stroke-width="0.5" />
<line x1="456.60" y1="268.10" x2="510.80" y2="268.10" stroke="#e2e2e2" stroke-width="0.5" stroke-dasharray="1.2,1"/>
<line x1="454.30" y1="266.15" x2="455.60" y2="266.15" stroke="#555" stroke-width="0.5" />
<line x1="456.60" y1="266.15" x2="510.80" y2="266.15" stroke="#e2e2e2" stroke-width="0.5" stroke-dasharray="1.2,1"/>
<line x1="452.30" y1="264.40" x2="455.60" y2="264.40" stroke="#333" stroke-width="0.8" />
<line x1="455.60" y1="379.00" x2="510.80" y2="379.00" stroke="#333" stroke-width="0.9" />
<text x="480.60" y="251.90" font-size="6.9" text-anchor="middle" fill="#222" textLength="31.2" lengthAdjust="spacingAndGlyphs">&gt;120 days</text>
<text x="481.10" y="260.60" font-size="6.9" text-anchor="middle" fill="#222" textLength="40.2" lengthAdjust="spacingAndGlyphs">post 2<tspan font-size="4.0" dy="-2.8">nd</tspan><tspan dy="2.8"> dose</tspan></text>
<rect x="460.70" y="327.20" width="8.60" height="51.80" fill="#fff" stroke="#222" stroke-width="0.7" />
<circle cx="463.40" cy="307.90" r="1.8" fill="#fff" stroke="#333" stroke-width="0.55"/>
<circle cx="464.90" cy="309.60" r="1.8" fill="#fff" stroke="#333" stroke-width="0.55"/>
<circle cx="461.20" cy="324.50" r="1.8" fill="#fff" stroke="#333" stroke-width="0.55"/>
<circle cx="464.90" cy="323.90" r="1.8" fill="#fff" stroke="#333" stroke-width="0.55"/>
<circle cx="466.40" cy="325.00" r="1.8" fill="#fff" stroke="#333" stroke-width="0.55"/>
<circle cx="462.60" cy="328.70" r="1.8" fill="#fff" stroke="#333" stroke-width="0.55"/>
<circle cx="464.90" cy="328.00" r="1.8" fill="#fff" stroke="#333" stroke-width="0.55"/>
<circle cx="467.10" cy="331.70" r="1.8" fill="#fff" stroke="#333" stroke-width="0.55"/>
<circle cx="461.90" cy="334.60" r="1.8" fill="#fff" stroke="#333" stroke-width="0.55"/>
<circle cx="464.90" cy="333.90" r="1.8" fill="#fff" stroke="#333" stroke-width="0.55"/>
<circle cx="467.10" cy="337.60" r="1.8" fill="#fff" stroke="#333" stroke-width="0.55"/>
<circle cx="461.90" cy="341.30" r="1.8" fill="#fff" stroke="#333" stroke-width="0.55"/>
<circle cx="464.90" cy="340.60" r="1.8" fill="#fff" stroke="#333" stroke-width="0.55"/>
<circle cx="461.90" cy="345.10" r="1.8" fill="#fff" stroke="#333" stroke-width="0.55"/>
<circle cx="467.10" cy="344.30" r="1.8" fill="#fff" stroke="#333" stroke-width="0.55"/>
<circle cx="461.90" cy="349.50" r="1.8" fill="#fff" stroke="#333" stroke-width="0.55"/>
<circle cx="467.10" cy="347.30" r="1.8" fill="#fff" stroke="#333" stroke-width="0.55"/>
<rect x="473.50" y="312.30" width="8.00" height="66.70" fill="#892462" stroke="#222" stroke-width="0.7" />
<line x1="477.50" y1="306.70" x2="477.50" y2="321.00" stroke="#222" stroke-width="0.7" />
<line x1="475.90" y1="306.70" x2="479.10" y2="306.70" stroke="#222" stroke-width="0.7" />
<line x1="475.90" y1="321.00" x2="479.10" y2="321.00" stroke="#222" stroke-width="0.7" />
<rect x="475.40" y="301.30" width="3.60" height="3.60" fill="#fff" stroke="#333" stroke-width="0.55" />
<circle cx="477.20" cy="312.00" r="1.8" fill="#fff" stroke="#333" stroke-width="0.55"/>
<path d="M475.2,334.8 L479.2,334.8 L477.2,331.2 Z" fill="#fff" stroke="#333" stroke-width="0.55"/>
<rect x="486.20" y="318.30" width="7.70" height="60.70" fill="#62aaea" stroke="#222" stroke-width="0.7" />
<line x1="490.05" y1="315.30" x2="490.05" y2="321.50" stroke="#222" stroke-width="0.7" />
<line x1="488.45" y1="315.30" x2="491.65" y2="315.30" stroke="#222" stroke-width="0.7" />
<line x1="488.45" y1="321.50" x2="491.65" y2="321.50" stroke="#222" stroke-width="0.7" />
<circle cx="488.00" cy="308.60" r="1.8" fill="#fff" stroke="#333" stroke-width="0.55"/>
<circle cx="492.40" cy="308.60" r="1.8" fill="#fff" stroke="#333" stroke-width="0.55"/>
<circle cx="489.40" cy="313.80" r="1.8" fill="#fff" stroke="#333" stroke-width="0.55"/>
<circle cx="489.90" cy="324.50" r="1.8" fill="#fff" stroke="#333" stroke-width="0.55"/>
<circle cx="489.90" cy="330.90" r="1.8" fill="#fff" stroke="#333" stroke-width="0.55"/>
<circle cx="489.90" cy="343.90" r="1.8" fill="#fff" stroke="#333" stroke-width="0.55"/>
<circle cx="489.90" cy="369.60" r="1.8" fill="#fff" stroke="#333" stroke-width="0.55"/>
<rect x="498.40" y="322.00" width="8.10" height="57.00" fill="#2f4394" stroke="#222" stroke-width="0.7" />
<line x1="502.45" y1="316.80" x2="502.45" y2="334.60" stroke="#222" stroke-width="0.7" />
<line x1="500.85" y1="316.80" x2="504.05" y2="316.80" stroke="#222" stroke-width="0.7" />
<line x1="500.85" y1="334.60" x2="504.05" y2="334.60" stroke="#222" stroke-width="0.7" />
<circle cx="501.30" cy="303.10" r="1.8" fill="#fff" stroke="#333" stroke-width="0.55"/>
<circle cx="503.30" cy="305.20" r="1.8" fill="#fff" stroke="#333" stroke-width="0.55"/>
<rect x="500.30" y="316.50" width="3.60" height="3.60" fill="#fff" stroke="#333" stroke-width="0.55" />
<circle cx="502.10" cy="334.30" r="1.8" fill="#fff" stroke="#333" stroke-width="0.55"/>
<circle cx="499.90" cy="355.50" r="1.8" fill="#fff" stroke="#333" stroke-width="0.55"/>
<circle cx="501.30" cy="357.70" r="1.8" fill="#fff" stroke="#333" stroke-width="0.55"/>
<circle cx="504.30" cy="356.20" r="1.8" fill="#fff" stroke="#333" stroke-width="0.55"/>
<line x1="456.60" y1="341.30" x2="510.80" y2="341.30" stroke="#111" stroke-width="1.0" stroke-dasharray="1.1,1.1"/>
<text x="468.50" y="387.00" font-size="6.4" text-anchor="end" fill="#222" transform="rotate(-45 468.5 387.0)" >HD</text>
<text x="480.90" y="387.00" font-size="6.4" text-anchor="end" fill="#222" transform="rotate(-45 480.90000000000003 387.0)" >IRF7/TLR7/IFNAR1<tspan font-size="3.4" dy="-2.6">LOF</tspan></text>
<text x="493.70" y="387.00" font-size="6.4" text-anchor="end" fill="#222" transform="rotate(-45 493.7 387.0)" >APS-1</text>
<text x="505.70" y="387.00" font-size="6.4" text-anchor="end" fill="#222" transform="rotate(-45 505.7 387.0)" >AAB</text>
<text x="-1.00" y="445.90" font-size="13.0" text-anchor="start" fill="#111" stroke="#111" stroke-width="0.35">D</text>
<text x="43.20" y="480.60" font-size="7.1" text-anchor="start" fill="#222" transform="rotate(-90 43.2 480.6)" >HD</text>
<text x="62.10" y="480.60" font-size="7.1" text-anchor="start" fill="#222" transform="rotate(-90 62.1 480.6)" >IRF7</text>
<text x="81.00" y="480.60" font-size="7.1" text-anchor="start" fill="#222" transform="rotate(-90 81.0 480.6)" >APS-1</text>
<text x="99.90" y="480.60" font-size="7.1" text-anchor="start" fill="#222" transform="rotate(-90 99.89999999999999 480.6)" >AAB</text>
<text x="26.40" y="493.80" font-size="6.9" text-anchor="end" fill="#222" >1/10</text>
<text x="26.40" y="510.00" font-size="6.9" text-anchor="end" fill="#222" >1/40</text>
<text x="26.40" y="526.10" font-size="6.9" text-anchor="end" fill="#222" >1/160</text>
<text x="26.40" y="542.30" font-size="6.9" text-anchor="end" fill="#222" >1/640</text>
<text x="26.40" y="558.40" font-size="6.9" text-anchor="end" fill="#222" >1/2560</text>
<text x="26.40" y="574.70" font-size="6.9" text-anchor="end" fill="#222" >1/10240</text>
<circle cx="40.6" cy="491.8" r="7.75" fill="rgb(204,207,215)" stroke="#a4a8b2" stroke-width="0.6"/>
<path d="M35.7,493.3h0.01M44.8,489.6h0.01M35.3,491.5h0.01M42.6,496.3h0.01" stroke="#555a6e" stroke-width="1.1" stroke-linecap="round" opacity="0.7"/>
<circle cx="59.5" cy="491.8" r="7.75" fill="rgb(220,222,228)" stroke="#a4a8b2" stroke-width="0.6"/>
<path d="M55.3,487.3h0.01" stroke="#555a6e" stroke-width="1.1" stroke-linecap="round" opacity="0.7"/>
<circle cx="78.4" cy="491.8" r="7.75" fill="rgb(196,210,210)" stroke="#a4a8b2" stroke-width="0.6"/>
<path d="M81.6,493.9h0.01M83.6,495.1h0.01" stroke="#555a6e" stroke-width="1.1" stroke-linecap="round" opacity="0.7"/>
<circle cx="97.3" cy="491.8" r="7.75" fill="rgb(208,211,219)" stroke="#a4a8b2" stroke-width="0.6"/>
<path d="M96.8,490.5h0.01M104.0,491.0h0.01M94.2,487.3h0.01M97.8,492.5h0.01M95.6,491.5h0.01" stroke="#555a6e" stroke-width="1.1" stroke-linecap="round" opacity="0.7"/>
<circle cx="40.6" cy="508.0" r="7.75" fill="rgb(206,209,217)" stroke="#a4a8b2" stroke-width="0.6"/>
<path d="M41.8,511.2h0.01M45.2,508.9h0.01M34.7,510.3h0.01M35.1,507.3h0.01M35.0,508.0h0.01M37.1,509.0h0.01M47.5,507.9h0.01" stroke="#555a6e" stroke-width="1.1" stroke-linecap="round" opacity="0.7"/>
<circle cx="59.5" cy="508.0" r="7.75" fill="rgb(222,224,229)" stroke="#a4a8b2" stroke-width="0.6"/>
<path d="M62.6,503.1h0.01M58.2,511.0h0.01" stroke="#555a6e" stroke-width="1.1" stroke-linecap="round" opacity="0.7"/>
<circle cx="78.4" cy="508.0" r="7.75" fill="rgb(208,218,216)" stroke="#a4a8b2" stroke-width="0.6"/>
<path d="M78.0,509.8h0.01M78.8,503.7h0.01M80.8,504.5h0.01M84.5,506.3h0.01" stroke="#555a6e" stroke-width="1.1" stroke-linecap="round" opacity="0.7"/>
<circle cx="97.3" cy="508.0" r="7.75" fill="rgb(210,213,221)" stroke="#a4a8b2" stroke-width="0.6"/>
<path d="M100.5,508.0h0.01M101.3,505.5h0.01M101.6,507.5h0.01M102.2,510.4h0.01M97.9,504.5h0.01M100.7,510.1h0.01M103.2,506.7h0.01M99.8,510.3h0.01M98.7,509.0h0.01" stroke="#555a6e" stroke-width="1.1" stroke-linecap="round" opacity="0.7"/>
<circle cx="40.6" cy="524.1" r="7.75" fill="rgb(200,204,213)" stroke="#a4a8b2" stroke-width="0.6"/>
<path d="M41.4,521.3h0.01M36.3,522.4h0.01M42.7,529.6h0.01M44.4,528.2h0.01M43.9,527.1h0.01M41.4,527.6h0.01M46.7,523.0h0.01M38.4,530.2h0.01M41.7,528.3h0.01M44.0,519.7h0.01M46.1,528.1h0.01M41.4,527.5h0.01M41.2,520.2h0.01M40.1,525.9h0.01M45.0,526.9h0.01M40.8,529.4h0.01M37.4,527.5h0.01M45.2,522.9h0.01M34.9,521.2h0.01M41.7,526.6h0.01M45.8,520.7h0.01M40.6,527.1h0.01M40.2,517.4h0.01M42.8,530.5h0.01M44.6,520.5h0.01M38.6,525.2h0.01M47.2,525.7h0.01M41.0,529.9h0.01M40.3,530.4h0.01M37.5,522.0h0.01M43.2,529.3h0.01M43.6,525.5h0.01M34.7,521.8h0.01M37.8,521.7h0.01M43.3,522.6h0.01M44.2,524.5h0.01M39.0,524.7h0.01M42.5,527.8h0.01M38.3,523.0h0.01M36.4,529.1h0.01" stroke="#555a6e" stroke-width="1.1" stroke-linecap="round" opacity="0.7"/>
<circle cx="59.5" cy="524.1" r="7.75" fill="rgb(216,219,225)" stroke="#a4a8b2" stroke-width="0.6"/>
<path d="M65.1,523.4h0.01M57.6,519.2h0.01M60.3,525.1h0.01M66.0,524.8h0.01M57.4,517.6h0.01M65.0,524.8h0.01" stroke="#555a6e" stroke-width="1.1" stroke-linecap="round" opacity="0.7"/>
<circle cx="78.4" cy="524.1" r="7.75" fill="rgb(206,211,216)" stroke="#a4a8b2" stroke-width="0.6"/>
<path d="M72.5,524.8h0.01M75.5,530.4h0.01M82.9,526.4h0.01M77.9,517.6h0.01M77.9,518.3h0.01M80.2,517.7h0.01M75.0,528.7h0.01M83.6,520.3h0.01M73.1,527.2h0.01M81.8,520.1h0.01M75.4,521.1h0.01M73.7,521.4h0.01M83.2,526.8h0.01M84.9,523.8h0.01M77.8,519.8h0.01M77.9,518.9h0.01M72.5,526.4h0.01M83.6,527.1h0.01M83.7,525.1h0.01M75.1,524.5h0.01M76.8,519.5h0.01M73.4,519.7h0.01M78.4,524.8h0.01M76.6,529.5h0.01M79.2,526.8h0.01M83.0,521.0h0.01M72.3,526.4h0.01M75.8,529.1h0.01M79.8,528.4h0.01M80.7,517.9h0.01M81.5,521.2h0.01M75.0,522.2h0.01M81.6,527.8h0.01M81.7,518.7h0.01M76.8,517.6h0.01M77.9,526.9h0.01M75.0,525.2h0.01M79.4,528.4h0.01M75.0,520.7h0.01M75.9,529.9h0.01M83.0,523.6h0.01M79.5,524.7h0.01M79.4,523.1h0.01M77.1,519.1h0.01M76.2,529.8h0.01M80.9,524.4h0.01M77.4,524.4h0.01M80.0,521.2h0.01M79.3,525.3h0.01M75.2,520.8h0.01" stroke="#555a6e" stroke-width="1.1" stroke-linecap="round" opacity="0.7"/>
<circle cx="97.3" cy="524.1" r="7.75" fill="rgb(200,204,213)" stroke="#a4a8b2" stroke-width="0.6"/>
<path d="M93.5,520.0h0.01M99.7,517.8h0.01M96.1,521.3h0.01M94.4,524.6h0.01M102.0,524.4h0.01M96.6,521.3h0.01M96.7,528.1h0.01M95.7,519.4h0.01M92.8,520.1h0.01M92.5,527.9h0.01M99.0,523.0h0.01M102.6,521.7h0.01M100.5,527.5h0.01M92.7,519.4h0.01M93.6,527.7h0.01M101.8,519.9h0.01M101.7,522.5h0.01M95.5,521.6h0.01M96.2,518.0h0.01M93.6,519.6h0.01M98.8,530.5h0.01M104.1,523.3h0.01M91.3,522.7h0.01M94.5,530.0h0.01M99.8,520.9h0.01M101.3,526.4h0.01M91.6,522.2h0.01M96.1,524.2h0.01M97.9,522.5h0.01M98.2,521.4h0.01M94.2,529.4h0.01M99.0,526.2h0.01M91.5,523.5h0.01M100.4,519.3h0.01M101.9,522.5h0.01M99.2,523.5h0.01M98.2,529.0h0.01M95.8,529.8h0.01M94.1,520.3h0.01M100.2,519.8h0.01M95.7,528.0h0.01M101.0,518.7h0.01" stroke="#555a6e" stroke-width="1.1" stroke-linecap="round" opacity="0.7"/>
<circle cx="40.6" cy="540.3" r="7.75" fill="rgb(196,200,210)" stroke="#a4a8b2" stroke-width="0.6"/>
<path d="M42.3,546.4h0.01M45.5,539.3h0.01M37.8,538.9h0.01M35.8,539.2h0.01M39.7,539.6h0.01M45.5,539.4h0.01M35.6,543.9h0.01M36.1,538.4h0.01M40.0,538.6h0.01M36.3,539.2h0.01M47.0,538.5h0.01M40.0,545.0h0.01M43.8,543.6h0.01M43.2,534.3h0.01M36.8,540.9h0.01M42.6,545.4h0.01M42.8,539.2h0.01M40.8,539.3h0.01M41.7,543.4h0.01M39.1,536.7h0.01M37.3,544.6h0.01M45.3,543.9h0.01M44.1,543.7h0.01M40.6,543.4h0.01M36.1,539.4h0.01M37.4,543.4h0.01M37.9,539.8h0.01M42.2,545.6h0.01M37.4,536.5h0.01M43.8,536.0h0.01M42.7,537.7h0.01M40.2,534.1h0.01M43.8,538.1h0.01M38.0,546.4h0.01M42.0,547.1h0.01M42.5,538.7h0.01M41.0,546.2h0.01M40.5,542.4h0.01M42.8,536.4h0.01M41.2,537.9h0.01M35.9,543.6h0.01M43.7,540.6h0.01M37.9,534.3h0.01M42.9,539.8h0.01M34.6,540.1h0.01M34.9,540.2h0.01M41.3,542.0h0.01M41.6,541.1h0.01M35.9,538.7h0.01M38.2,539.2h0.01M41.8,543.2h0.01M44.3,534.5h0.01M42.5,539.4h0.01M46.8,542.9h0.01M34.7,541.7h0.01M38.4,544.5h0.01M36.1,539.9h0.01M40.0,539.8h0.01M38.7,534.3h0.01M42.5,544.5h0.01M40.3,535.9h0.01M41.5,542.9h0.01M39.7,540.2h0.01M45.4,536.5h0.01M38.8,534.2h0.01M37.6,537.1h0.01M36.6,537.4h0.01M46.8,539.6h0.01M40.3,546.9h0.01M40.4,534.2h0.01M42.3,536.3h0.01M45.8,536.4h0.01M38.5,534.6h0.01M41.0,535.9h0.01M40.3,538.5h0.01M38.0,544.3h0.01M44.7,540.6h0.01M37.1,536.1h0.01M41.4,547.0h0.01M38.6,536.8h0.01M37.8,535.9h0.01M36.4,539.4h0.01M46.1,540.3h0.01M38.8,534.6h0.01M41.6,540.2h0.01M36.2,536.4h0.01M40.4,544.7h0.01M43.5,541.3h0.01M39.1,541.8h0.01M40.6,546.9h0.01M35.9,538.8h0.01M45.7,539.2h0.01M46.1,540.1h0.01M41.3,538.5h0.01M35.7,536.8h0.01" stroke="#555a6e" stroke-width="1.1" stroke-linecap="round" opacity="0.7"/>
<circle cx="59.5" cy="540.3" r="7.75" fill="rgb(205,208,216)" stroke="#a4a8b2" stroke-width="0.6"/>
<path d="M65.9,542.2h0.01M62.0,544.3h0.01M61.9,544.5h0.01M58.2,539.2h0.01M63.7,538.8h0.01M54.2,539.4h0.01M57.1,543.1h0.01M56.6,536.0h0.01M58.3,546.0h0.01M59.3,541.1h0.01M59.5,541.7h0.01M62.8,545.3h0.01M54.5,544.5h0.01M59.5,538.8h0.01M66.2,539.8h0.01M65.4,543.2h0.01M55.2,542.3h0.01M62.9,539.7h0.01M52.9,539.3h0.01M58.7,535.6h0.01M65.7,539.5h0.01M57.6,538.9h0.01M56.2,537.0h0.01M60.0,541.8h0.01M57.1,539.9h0.01M54.2,542.3h0.01M56.1,541.3h0.01M55.6,538.1h0.01M60.4,535.4h0.01M66.2,540.2h0.01M59.2,536.9h0.01M64.4,544.6h0.01M60.7,535.0h0.01M57.2,543.1h0.01M57.4,535.5h0.01M54.9,537.3h0.01M59.6,537.3h0.01M59.5,547.1h0.01M65.1,537.0h0.01M61.1,540.7h0.01M58.9,544.8h0.01M57.9,538.8h0.01M57.7,539.8h0.01M64.4,543.2h0.01M54.3,538.6h0.01M56.2,543.7h0.01M60.5,544.2h0.01M59.3,534.0h0.01M61.6,541.4h0.01M61.5,535.2h0.01M59.9,537.1h0.01M56.4,541.9h0.01M61.0,536.4h0.01M55.6,534.7h0.01M57.2,544.8h0.01M59.3,533.7h0.01M55.7,542.1h0.01M64.8,544.0h0.01M61.3,541.2h0.01M55.1,538.4h0.01M58.0,536.8h0.01M59.8,538.4h0.01M60.8,545.8h0.01M62.8,542.2h0.01M58.6,534.6h0.01M59.0,542.9h0.01M55.8,544.9h0.01M57.9,542.1h0.01M58.2,535.3h0.01M65.3,537.0h0.01M63.4,537.9h0.01M60.7,536.7h0.01M57.7,544.3h0.01M65.5,537.7h0.01M59.5,544.4h0.01M56.7,543.4h0.01M56.1,542.9h0.01M61.3,545.2h0.01M61.0,535.4h0.01M62.2,535.9h0.01" stroke="#555a6e" stroke-width="1.1" stroke-linecap="round" opacity="0.7"/>
<circle cx="78.4" cy="540.3" r="7.75" fill="rgb(140,143,150)" stroke="#a4a8b2" stroke-width="0.6"/>
<path d="M81.1,545.7h0.01M81.1,537.8h0.01M83.3,541.0h0.01M73.4,538.9h0.01M83.8,539.1h0.01M79.0,538.7h0.01M72.5,538.5h0.01M80.1,541.3h0.01M77.9,533.8h0.01M83.1,543.1h0.01M82.1,545.0h0.01M76.4,537.5h0.01M79.5,546.2h0.01M72.4,539.5h0.01M75.2,542.8h0.01M83.9,539.2h0.01M73.3,540.5h0.01M77.3,534.6h0.01M82.2,538.0h0.01M81.0,535.3h0.01" stroke="#555a6e" stroke-width="1.1" stroke-linecap="round" opacity="0.7"/>
<circle cx="97.3" cy="540.3" r="7.75" fill="rgb(190,194,205)" stroke="#a4a8b2" stroke-width="0.6"/>
<path d="M101.0,535.4h0.01M100.6,534.7h0.01M102.6,538.9h0.01M91.6,539.4h0.01M98.7,536.1h0.01M95.0,541.6h0.01M96.9,533.4h0.01M95.3,542.3h0.01M98.6,544.6h0.01M95.5,546.9h0.01M100.9,541.7h0.01M101.5,544.0h0.01M97.8,537.4h0.01M101.6,542.1h0.01M91.6,537.0h0.01M99.5,540.8h0.01M98.6,543.2h0.01M97.8,546.1h0.01M94.6,538.5h0.01M98.8,543.7h0.01M100.1,545.6h0.01M95.4,545.0h0.01M99.3,535.9h0.01M96.9,546.8h0.01M100.8,538.2h0.01M90.8,538.3h0.01M94.1,540.7h0.01M103.7,542.4h0.01M98.7,536.2h0.01M92.4,539.4h0.01M96.2,547.1h0.01M95.5,537.5h0.01M102.0,540.6h0.01M93.0,544.7h0.01M96.1,535.1h0.01M98.8,542.6h0.01M95.8,543.5h0.01M100.7,536.7h0.01M92.8,535.1h0.01M96.8,545.3h0.01M100.8,545.2h0.01M103.6,540.4h0.01M100.9,535.2h0.01M100.4,542.1h0.01M96.9,538.2h0.01M92.6,540.9h0.01M102.4,538.8h0.01M99.7,537.3h0.01M98.4,536.0h0.01M99.1,539.3h0.01M98.8,537.5h0.01M92.5,539.0h0.01M100.8,545.6h0.01M95.9,543.9h0.01M100.7,542.1h0.01M91.6,541.5h0.01M93.7,544.7h0.01M100.7,543.0h0.01M90.7,541.9h0.01M100.0,535.4h0.01M101.5,540.6h0.01M96.5,537.0h0.01M93.0,538.5h0.01M104.2,540.8h0.01M98.3,537.3h0.01M94.5,537.8h0.01M93.7,543.9h0.01M96.1,544.1h0.01M92.9,543.8h0.01M97.2,543.4h0.01M96.8,536.4h0.01M102.2,538.5h0.01M96.6,536.4h0.01M98.3,538.4h0.01M98.6,541.9h0.01M94.8,535.1h0.01M99.2,544.3h0.01M100.1,535.8h0.01M100.1,542.1h0.01M98.6,542.3h0.01M95.7,541.3h0.01M101.3,538.1h0.01M91.8,539.9h0.01M98.0,534.1h0.01M94.3,542.9h0.01M96.6,540.7h0.01M92.6,543.7h0.01M103.4,539.6h0.01M94.4,535.8h0.01M101.2,540.8h0.01M94.3,545.0h0.01M100.6,542.9h0.01M91.2,539.9h0.01M99.8,535.5h0.01M100.6,545.4h0.01M101.5,537.4h0.01M94.4,544.2h0.01M101.0,544.8h0.01M102.2,539.9h0.01M95.9,534.1h0.01M99.5,546.6h0.01M95.2,538.1h0.01M100.3,542.0h0.01M92.2,537.6h0.01M94.1,546.1h0.01M94.3,543.9h0.01M102.1,545.1h0.01M101.6,545.2h0.01M92.3,538.9h0.01M94.0,539.0h0.01" stroke="#555a6e" stroke-width="1.1" stroke-linecap="round" opacity="0.7"/>
<circle cx="40.6" cy="556.4" r="7.75" fill="rgb(188,192,202)" stroke="#a4a8b2" stroke-width="0.6"/>
<path d="M46.4,552.7h0.01M42.8,551.5h0.01M45.1,560.8h0.01M39.0,562.7h0.01M40.9,561.6h0.01M42.0,553.8h0.01M38.8,555.8h0.01M43.5,557.0h0.01M47.3,555.9h0.01M38.5,553.2h0.01M37.8,551.2h0.01M36.7,560.0h0.01M40.9,555.6h0.01M42.1,560.9h0.01M43.3,559.8h0.01M38.0,555.2h0.01M37.1,556.0h0.01M37.0,554.8h0.01M39.8,555.4h0.01M39.3,554.1h0.01M45.8,555.0h0.01M36.3,557.2h0.01M36.5,552.4h0.01M40.9,550.4h0.01M33.7,557.0h0.01M44.0,551.0h0.01M36.8,558.9h0.01M34.6,553.8h0.01M35.7,555.6h0.01M34.6,559.1h0.01M39.9,557.9h0.01M39.6,549.9h0.01M40.0,551.1h0.01M40.6,552.6h0.01M39.1,555.4h0.01M43.9,559.7h0.01M36.3,556.3h0.01M46.0,558.2h0.01M37.3,555.8h0.01M39.1,560.5h0.01M40.8,558.2h0.01M46.4,552.8h0.01M37.4,550.9h0.01M35.1,559.3h0.01M41.7,562.3h0.01M34.6,553.7h0.01M45.6,560.0h0.01M44.2,560.0h0.01M40.8,556.3h0.01M40.7,560.2h0.01M39.8,557.9h0.01M45.5,552.6h0.01M37.3,558.9h0.01M39.3,555.6h0.01M47.0,557.7h0.01M38.9,561.0h0.01M46.8,553.6h0.01M37.5,556.9h0.01M38.7,562.8h0.01M43.0,554.6h0.01M42.8,552.9h0.01M37.8,556.9h0.01M45.6,551.7h0.01M42.2,561.6h0.01M42.9,562.4h0.01M42.7,557.1h0.01M40.0,552.6h0.01M45.8,552.6h0.01M40.0,553.9h0.01M38.4,550.1h0.01M38.8,557.1h0.01M41.2,560.2h0.01M39.8,553.4h0.01M42.0,559.4h0.01M37.5,551.1h0.01M36.7,560.4h0.01M44.6,552.9h0.01M41.1,560.2h0.01M45.6,553.9h0.01M39.7,561.8h0.01M46.4,560.1h0.01M35.9,558.2h0.01M39.2,556.1h0.01M37.6,554.2h0.01M40.6,562.6h0.01M43.7,558.3h0.01M40.7,553.0h0.01M39.7,561.4h0.01M43.1,562.4h0.01M41.9,556.3h0.01M34.8,557.8h0.01M35.6,560.8h0.01M37.7,556.4h0.01M35.4,554.5h0.01M37.0,560.7h0.01M41.6,551.5h0.01M34.3,556.2h0.01M38.6,551.8h0.01M43.3,555.5h0.01M41.1,553.6h0.01M38.0,554.3h0.01M35.0,558.6h0.01M42.0,550.4h0.01M41.0,561.2h0.01M41.5,561.6h0.01M39.3,556.4h0.01M35.8,553.1h0.01M34.8,553.6h0.01M41.7,558.8h0.01M45.4,556.9h0.01" stroke="#555a6e" stroke-width="1.1" stroke-linecap="round" opacity="0.7"/>
<circle cx="59.5" cy="556.4" r="7.75" fill="rgb(196,200,209)" stroke="#a4a8b2" stroke-width="0.6"/>
<path d="M55.3,558.2h0.01M59.0,562.5h0.01M65.4,559.3h0.01M54.9,554.3h0.01M60.4,553.1h0.01M61.8,559.5h0.01M63.2,557.4h0.01M55.9,552.9h0.01M59.0,561.7h0.01M64.8,559.7h0.01M61.1,559.5h0.01M62.6,561.2h0.01M62.5,551.1h0.01M63.6,558.1h0.01M57.4,558.8h0.01M60.9,556.1h0.01M53.5,556.8h0.01M62.1,556.2h0.01M53.8,558.1h0.01M62.8,557.2h0.01M61.5,554.7h0.01M56.6,558.7h0.01M57.8,557.3h0.01M66.2,557.9h0.01M60.0,550.5h0.01M59.9,559.8h0.01M56.3,555.3h0.01M53.0,558.0h0.01M56.9,559.4h0.01M64.9,555.8h0.01M63.7,557.5h0.01M58.5,555.1h0.01M56.3,561.2h0.01M63.0,552.4h0.01M63.0,553.3h0.01M54.5,560.3h0.01M55.0,560.5h0.01M60.4,560.4h0.01M61.6,561.1h0.01M61.1,559.1h0.01M60.5,561.0h0.01M57.8,560.7h0.01M65.2,556.2h0.01M61.5,554.0h0.01M58.1,557.6h0.01M58.0,552.5h0.01M59.4,557.3h0.01M61.0,559.6h0.01M54.3,560.5h0.01M58.7,552.9h0.01M57.8,558.5h0.01M63.3,554.8h0.01M60.1,550.6h0.01M60.3,555.9h0.01M57.6,560.2h0.01M65.1,559.6h0.01M56.7,561.8h0.01M57.9,556.2h0.01M56.9,558.5h0.01M62.1,557.1h0.01M58.5,555.7h0.01M57.8,560.6h0.01M57.1,555.7h0.01M58.6,553.0h0.01M58.6,550.8h0.01M61.4,558.9h0.01M58.4,562.1h0.01M55.9,558.8h0.01M61.7,554.0h0.01M58.4,560.3h0.01M59.8,557.8h0.01M64.9,557.2h0.01M53.8,553.9h0.01M63.2,555.8h0.01M56.3,550.6h0.01M60.7,562.0h0.01M56.1,550.6h0.01M61.8,553.9h0.01M58.1,554.9h0.01M55.6,558.3h0.01M63.5,558.0h0.01M57.2,560.7h0.01M59.0,559.1h0.01M55.6,559.1h0.01M62.3,561.3h0.01M59.6,558.5h0.01M57.1,560.2h0.01M62.6,560.7h0.01M58.0,551.5h0.01M59.2,555.4h0.01M56.3,559.0h0.01M63.5,558.1h0.01M64.1,558.0h0.01M55.4,554.0h0.01M57.9,559.5h0.01M63.5,557.0h0.01M63.5,553.1h0.01M59.1,562.0h0.01M61.3,560.7h0.01M54.4,551.9h0.01" stroke="#555a6e" stroke-width="1.1" stroke-linecap="round" opacity="0.7"/>
<circle cx="78.4" cy="556.4" r="7.75" fill="rgb(178,183,190)" stroke="#a4a8b2" stroke-width="0.6"/>
<path d="M75.0,560.4h0.01M84.1,554.3h0.01M74.6,552.5h0.01M74.6,558.8h0.01M77.4,562.6h0.01M81.5,553.5h0.01M79.5,555.7h0.01M81.6,560.1h0.01M76.9,560.3h0.01M81.0,556.0h0.01M79.6,559.5h0.01M77.0,553.4h0.01M83.5,556.4h0.01M75.7,558.5h0.01M72.8,556.6h0.01M73.2,554.8h0.01M72.6,554.1h0.01M82.3,555.6h0.01M74.7,561.7h0.01M76.1,561.8h0.01M76.5,551.0h0.01M84.5,555.0h0.01M81.3,561.0h0.01M73.2,556.7h0.01M75.9,559.1h0.01M78.4,551.4h0.01M78.7,559.8h0.01M77.1,559.0h0.01M76.0,556.2h0.01M80.1,557.1h0.01M83.0,559.9h0.01M81.9,559.4h0.01M79.1,551.7h0.01M81.8,561.9h0.01M79.5,555.2h0.01M78.3,561.3h0.01M79.6,552.3h0.01M77.7,553.0h0.01M77.6,552.5h0.01M75.4,561.6h0.01M81.9,551.2h0.01M74.3,554.6h0.01M76.9,551.2h0.01M81.4,551.0h0.01M81.4,559.4h0.01M76.8,553.5h0.01M78.7,557.1h0.01M72.6,553.0h0.01M80.9,555.9h0.01M76.7,552.3h0.01M75.5,553.2h0.01M84.7,553.6h0.01M84.0,558.2h0.01M79.4,557.4h0.01M77.1,562.1h0.01" stroke="#555a6e" stroke-width="1.1" stroke-linecap="round" opacity="0.7"/>
<circle cx="97.3" cy="556.4" r="7.75" fill="rgb(190,194,205)" stroke="#a4a8b2" stroke-width="0.6"/>
<path d="M99.7,556.3h0.01M96.8,557.4h0.01M92.7,555.1h0.01M94.6,559.1h0.01M99.3,550.4h0.01M96.4,560.6h0.01M92.8,552.3h0.01M101.6,555.9h0.01M95.5,551.6h0.01M98.1,553.9h0.01M98.3,558.4h0.01M100.5,555.0h0.01M94.9,556.6h0.01M96.9,557.3h0.01M94.9,555.3h0.01M94.8,553.8h0.01M98.0,561.1h0.01M95.0,559.0h0.01M99.0,557.0h0.01M100.3,554.0h0.01M99.9,557.8h0.01M90.4,557.1h0.01M99.2,562.5h0.01M92.9,556.8h0.01M98.8,552.3h0.01M102.1,558.2h0.01M94.3,551.9h0.01M96.2,563.0h0.01M101.8,551.2h0.01M91.4,558.6h0.01M96.8,553.5h0.01M100.1,556.9h0.01M98.7,557.7h0.01M93.5,561.0h0.01M95.5,561.0h0.01M100.5,556.6h0.01M98.0,556.2h0.01M91.2,555.3h0.01M98.9,550.7h0.01M92.3,560.1h0.01M100.1,551.1h0.01M99.5,556.2h0.01M101.5,555.1h0.01M96.3,553.1h0.01M98.2,555.8h0.01M94.4,554.9h0.01M94.1,559.1h0.01M93.9,551.2h0.01M93.7,560.5h0.01M95.1,559.3h0.01M100.5,554.2h0.01M100.6,558.6h0.01M97.1,553.2h0.01M97.1,551.3h0.01M96.1,553.8h0.01M99.4,558.0h0.01M94.6,560.1h0.01M102.2,556.7h0.01M94.1,558.6h0.01M90.7,554.8h0.01M99.1,562.6h0.01M94.7,561.8h0.01M102.6,560.7h0.01M91.2,559.3h0.01M98.1,560.7h0.01M96.5,553.6h0.01M96.5,562.0h0.01M101.0,555.1h0.01M99.0,560.2h0.01M99.9,556.2h0.01M94.5,553.2h0.01M95.3,553.9h0.01M92.5,552.1h0.01M100.7,552.1h0.01M92.1,556.2h0.01M102.1,560.6h0.01M95.6,552.1h0.01M95.0,552.5h0.01M94.8,558.6h0.01M93.1,553.3h0.01M96.1,556.3h0.01M94.1,553.1h0.01M92.9,553.5h0.01M99.7,555.3h0.01M90.6,557.7h0.01M97.0,552.6h0.01M96.7,549.6h0.01M92.1,560.1h0.01M102.1,561.3h0.01M94.0,556.6h0.01M100.3,551.7h0.01M103.1,554.0h0.01M98.8,551.7h0.01M99.1,556.3h0.01M101.3,552.2h0.01M97.3,562.6h0.01M92.5,557.8h0.01M99.3,554.1h0.01M96.3,561.8h0.01M101.9,558.7h0.01M98.4,551.7h0.01M97.6,562.6h0.01M101.0,551.6h0.01M91.0,554.4h0.01M98.1,553.8h0.01" stroke="#555a6e" stroke-width="1.1" stroke-linecap="round" opacity="0.7"/>
<circle cx="40.6" cy="572.7" r="7.75" fill="rgb(196,200,208)" stroke="#a4a8b2" stroke-width="0.6"/>
<path d="M39.1,574.3h0.01M44.5,573.6h0.01M44.8,568.0h0.01M42.8,574.7h0.01M35.7,576.8h0.01M35.7,568.3h0.01M46.8,575.7h0.01M42.1,578.0h0.01M44.8,568.6h0.01M42.4,578.0h0.01M39.8,573.1h0.01M38.5,576.0h0.01M38.1,570.1h0.01M36.0,569.2h0.01M41.6,574.9h0.01M39.0,568.3h0.01M42.2,574.4h0.01M45.6,570.7h0.01M38.7,575.1h0.01M46.3,572.5h0.01M40.2,568.6h0.01M39.0,576.8h0.01M43.9,577.1h0.01M35.0,575.5h0.01M36.7,575.2h0.01M33.9,572.4h0.01M37.3,577.5h0.01M41.1,577.9h0.01M39.2,579.0h0.01M39.2,578.9h0.01M38.5,568.5h0.01M44.5,571.0h0.01M40.4,567.4h0.01M38.9,573.3h0.01M37.4,574.5h0.01M34.3,575.1h0.01M39.1,578.2h0.01M39.0,569.7h0.01M38.5,574.0h0.01M43.3,570.6h0.01M37.1,574.6h0.01M43.3,567.0h0.01M36.3,569.9h0.01M45.9,576.5h0.01M44.1,574.9h0.01M36.5,576.9h0.01M38.6,569.2h0.01M46.0,568.7h0.01M46.0,573.5h0.01M36.5,573.5h0.01M36.8,573.6h0.01M38.0,568.0h0.01M47.3,571.4h0.01M44.9,572.5h0.01M43.2,567.8h0.01M38.5,566.1h0.01M44.9,574.6h0.01M36.1,575.9h0.01M42.0,579.4h0.01M41.7,576.8h0.01M43.3,576.1h0.01M40.5,570.7h0.01M43.4,577.5h0.01M36.3,568.6h0.01M40.5,578.9h0.01M39.9,566.7h0.01M44.0,575.9h0.01M47.0,573.3h0.01M46.7,570.5h0.01M44.6,573.3h0.01M35.7,571.6h0.01M45.3,576.6h0.01M39.0,577.4h0.01M44.3,576.4h0.01M42.0,574.2h0.01M36.9,572.4h0.01M41.2,569.3h0.01M39.2,573.5h0.01M41.5,577.2h0.01M36.2,571.0h0.01" stroke="#555a6e" stroke-width="1.1" stroke-linecap="round" opacity="0.7"/>
<circle cx="59.5" cy="572.7" r="7.75" fill="rgb(115,117,124)" stroke="#a4a8b2" stroke-width="0.6"/>
<path d="M60.8,570.9h0.01M61.1,570.5h0.01M64.4,571.8h0.01M55.0,575.7h0.01M63.9,567.6h0.01M58.9,573.1h0.01M63.0,577.8h0.01M58.9,566.9h0.01M62.3,576.9h0.01M61.8,573.1h0.01M57.4,579.1h0.01M55.5,567.7h0.01M63.8,574.0h0.01M62.6,574.4h0.01M64.5,577.0h0.01M57.2,576.9h0.01M55.8,567.3h0.01M64.4,571.0h0.01M52.9,572.7h0.01M56.5,575.0h0.01M59.3,569.2h0.01M56.5,576.0h0.01M55.4,573.3h0.01M55.3,574.7h0.01M65.5,574.6h0.01M64.1,574.6h0.01M55.3,571.4h0.01M59.9,574.8h0.01M56.8,575.5h0.01M56.2,573.0h0.01" stroke="#555a6e" stroke-width="1.1" stroke-linecap="round" opacity="0.7"/>
<circle cx="78.4" cy="572.7" r="7.75" fill="rgb(142,145,151)" stroke="#a4a8b2" stroke-width="0.6"/>
<path d="M78.4,567.9h0.01M82.8,572.9h0.01M79.0,572.6h0.01M72.8,569.0h0.01M74.9,576.7h0.01M75.8,575.5h0.01M74.3,569.3h0.01M76.5,577.2h0.01M72.4,572.1h0.01M80.4,573.4h0.01M78.4,576.3h0.01M79.7,568.4h0.01M81.2,569.3h0.01M77.1,578.2h0.01M84.3,576.2h0.01M80.3,569.3h0.01M75.8,578.4h0.01M79.7,567.3h0.01" stroke="#555a6e" stroke-width="1.1" stroke-linecap="round" opacity="0.7"/>
<circle cx="97.3" cy="572.7" r="7.75" fill="rgb(196,200,209)" stroke="#a4a8b2" stroke-width="0.6"/>
<path d="M103.0,574.8h0.01M102.5,574.3h0.01M91.0,570.6h0.01M96.6,571.9h0.01M102.8,570.3h0.01M96.8,572.5h0.01M96.9,568.3h0.01M94.4,566.5h0.01M98.9,571.8h0.01M98.2,568.2h0.01M97.3,568.5h0.01M93.0,574.2h0.01M100.2,575.3h0.01M97.1,570.9h0.01M102.0,576.9h0.01M94.7,568.3h0.01M99.1,574.3h0.01M94.8,579.0h0.01M91.1,570.3h0.01M98.4,577.0h0.01M91.1,571.3h0.01M101.9,577.2h0.01M96.1,572.9h0.01M93.4,574.5h0.01M94.3,566.8h0.01M91.6,572.9h0.01M92.7,576.6h0.01M102.0,576.4h0.01M99.9,577.3h0.01M98.5,576.6h0.01M99.4,576.2h0.01M93.1,570.0h0.01M93.3,576.1h0.01M99.6,569.2h0.01M93.2,570.3h0.01M101.2,572.2h0.01M96.2,569.5h0.01M96.9,578.6h0.01M94.2,571.1h0.01M103.1,575.2h0.01M93.1,576.8h0.01M92.4,574.9h0.01M91.0,570.2h0.01M101.2,570.2h0.01M94.0,573.0h0.01M97.3,570.5h0.01M95.1,578.7h0.01M102.9,574.0h0.01M92.6,570.6h0.01M96.0,575.0h0.01M103.0,570.9h0.01M98.0,570.7h0.01M98.0,569.5h0.01M98.9,577.5h0.01M95.5,571.2h0.01M97.8,567.5h0.01M102.6,568.8h0.01M95.7,568.8h0.01M102.9,570.9h0.01M95.7,578.9h0.01M96.8,569.2h0.01M97.3,573.7h0.01M93.9,571.9h0.01M96.4,576.0h0.01M100.6,576.2h0.01M96.8,576.3h0.01M96.5,577.6h0.01M99.2,570.7h0.01M101.4,567.8h0.01M93.4,569.5h0.01M96.8,567.7h0.01M93.8,567.1h0.01M97.9,569.2h0.01M103.6,574.9h0.01M93.3,577.4h0.01M97.8,577.3h0.01M93.3,577.0h0.01M101.9,571.0h0.01M93.6,571.1h0.01M98.1,579.4h0.01M102.4,577.0h0.01M96.3,571.2h0.01M99.1,571.4h0.01M95.1,571.7h0.01M101.1,572.4h0.01M98.5,571.5h0.01M96.4,571.1h0.01M102.4,573.7h0.01M103.0,572.1h0.01M101.1,567.9h0.01M95.4,572.4h0.01M94.4,572.2h0.01M93.3,572.0h0.01M94.2,572.7h0.01M96.1,568.4h0.01M95.4,572.9h0.01M92.2,573.1h0.01M102.4,571.8h0.01M99.8,575.5h0.01M94.3,577.7h0.01M103.6,570.1h0.01M103.6,570.6h0.01M101.5,567.5h0.01M102.1,573.3h0.01M92.5,569.6h0.01M93.2,569.2h0.01M99.2,571.9h0.01M90.6,571.9h0.01M99.6,573.2h0.01M101.9,567.8h0.01" stroke="#555a6e" stroke-width="1.1" stroke-linecap="round" opacity="0.7"/>
<path d="M102.6,486.4 A7.75,7.75 0 0 1 96.0,499.5 Q96.5,494.5 98.5,491.5 Q100.5,488.5 102.6,486.4 Z" fill="#35352f" opacity="0.92"/>
<path d="M54,567 Q59,574 65,569 M53,575 Q60,571 66,577 M56,566 L62,579 M58,566 Q55,572 60,579" stroke="#2e2e30" stroke-width="1.0" fill="none" opacity="0.6"/>
<path d="M75,546 Q78,541 80,538 Q82,535 84,534" stroke="#bfc3ca" stroke-width="1.6" fill="none" opacity="0.55" stroke-linecap="round"/>
<path d="M78,567 Q80,573 77,579" stroke="#c8ccd4" stroke-width="0.8" fill="none" opacity="0.6"/>
<text x="120.20" y="445.90" font-size="13.0" text-anchor="start" fill="#111" >E</text>
<circle cx="190.50" cy="441.60" r="2.6" fill="#ffffff" stroke="#333" stroke-width="0.6"/>
<text x="195.70" y="443.80" font-size="6.3" text-anchor="start" fill="#222" >HD</text>
<circle cx="190.50" cy="451.60" r="2.6" fill="#82c24e" stroke="#333" stroke-width="0.6"/>
<text x="195.70" y="453.80" font-size="6.3" text-anchor="start" fill="#222" >YD</text>
<rect x="216.50" y="439.10" width="5.00" height="5.00" fill="#892462" stroke="#333" stroke-width="0.5" />
<text x="224.20" y="443.80" font-size="6.3" text-anchor="start" fill="#222" >IRF7<tspan font-size="3.6" dy="-2.7">LOF</tspan></text>
<path d="M216.12,453.98 L221.88,453.98 L219.00,448.73 Z" fill="#892462" stroke="#333" stroke-width="0.5"/>
<text x="224.20" y="453.80" font-size="6.3" text-anchor="start" fill="#222" >TLR7<tspan font-size="3.6" dy="-2.7">LOF</tspan></text>
<path d="M216.12,459.23 L221.88,459.23 L219.00,464.48 Z" fill="#892462" stroke="#333" stroke-width="0.5"/>
<text x="224.20" y="463.80" font-size="6.3" text-anchor="start" fill="#222" >IFNAR1<tspan font-size="3.6" dy="-2.7">LOF</tspan></text>
<circle cx="265.50" cy="441.60" r="2.6" fill="#62aaea" stroke="#333" stroke-width="0.6"/>
<text x="269.80" y="443.80" font-size="6.3" text-anchor="start" fill="#222" >APS-1</text>
<circle cx="265.50" cy="451.60" r="2.6" fill="#2f4394" stroke="#222" stroke-width="0.6"/>
<text x="269.80" y="453.80" font-size="6.3" text-anchor="start" fill="#222" >AAB</text>
<line x1="153.40" y1="475.00" x2="294.70" y2="475.00" stroke="#444" stroke-width="0.9" />
<line x1="294.70" y1="475.00" x2="294.70" y2="587.20" stroke="#999" stroke-width="1.0" />
<line x1="153.40" y1="475.00" x2="153.40" y2="587.20" stroke="#333" stroke-width="0.9" />
<line x1="152.00" y1="581.24" x2="153.40" y2="581.24" stroke="#555" stroke-width="0.5" />
<line x1="152.00" y1="576.29" x2="153.40" y2="576.29" stroke="#555" stroke-width="0.5" />
<line x1="152.00" y1="572.10" x2="153.40" y2="572.10" stroke="#555" stroke-width="0.5" />
<line x1="152.00" y1="568.47" x2="153.40" y2="568.47" stroke="#555" stroke-width="0.5" />
<line x1="152.00" y1="565.26" x2="153.40" y2="565.26" stroke="#555" stroke-width="0.5" />
<line x1="149.90" y1="562.40" x2="153.40" y2="562.40" stroke="#333" stroke-width="0.8" />
<line x1="152.00" y1="543.56" x2="153.40" y2="543.56" stroke="#555" stroke-width="0.5" />
<line x1="152.00" y1="532.53" x2="153.40" y2="532.53" stroke="#555" stroke-width="0.5" />
<line x1="152.00" y1="524.71" x2="153.40" y2="524.71" stroke="#555" stroke-width="0.5" />
<line x1="152.00" y1="518.64" x2="153.40" y2="518.64" stroke="#555" stroke-width="0.5" />
<line x1="152.00" y1="513.69" x2="153.40" y2="513.69" stroke="#555" stroke-width="0.5" />
<line x1="152.00" y1="509.50" x2="153.40" y2="509.50" stroke="#555" stroke-width="0.5" />
<line x1="152.00" y1="505.87" x2="153.40" y2="505.87" stroke="#555" stroke-width="0.5" />
<line x1="152.00" y1="502.66" x2="153.40" y2="502.66" stroke="#555" stroke-width="0.5" />
<line x1="149.90" y1="499.80" x2="153.40" y2="499.80" stroke="#333" stroke-width="0.8" />
<line x1="152.00" y1="480.96" x2="153.40" y2="480.96" stroke="#555" stroke-width="0.5" />
<line x1="149.90" y1="475.00" x2="153.40" y2="475.00" stroke="#333" stroke-width="0.8" />
<line x1="149.90" y1="587.20" x2="153.40" y2="587.20" stroke="#333" stroke-width="0.8" />
<text x="0" y="0" font-size="6.6" text-anchor="end" fill="#222" transform="translate(148.40 477.20) scale(0.92 1)" >≥2560</text>
<text x="0" y="0" font-size="6.6" text-anchor="end" fill="#222" transform="translate(148.40 502.00) scale(0.88 1)" >1000</text>
<text x="0" y="0" font-size="6.6" text-anchor="end" fill="#222" transform="translate(148.40 564.60) scale(0.88 1)" >100</text>
<text x="0" y="0" font-size="6.6" text-anchor="end" fill="#222" transform="translate(148.40 589.40) scale(0.88 1)" >≤40</text>
<line x1="153.40" y1="587.20" x2="294.70" y2="587.20" stroke="#444" stroke-width="0.85" />
<line x1="153.40" y1="587.20" x2="153.40" y2="590.20" stroke="#333" stroke-width="0.8" />
<line x1="158.11" y1="587.20" x2="158.11" y2="588.50" stroke="#555" stroke-width="0.5" />
<line x1="162.82" y1="587.20" x2="162.82" y2="588.50" stroke="#555" stroke-width="0.5" />
<line x1="167.53" y1="587.20" x2="167.53" y2="588.50" stroke="#555" stroke-width="0.5" />
<line x1="172.24" y1="587.20" x2="172.24" y2="588.50" stroke="#555" stroke-width="0.5" />
<line x1="176.95" y1="587.20" x2="176.95" y2="588.50" stroke="#555" stroke-width="0.5" />
<line x1="181.66" y1="587.20" x2="181.66" y2="588.50" stroke="#555" stroke-width="0.5" />
<line x1="186.37" y1="587.20" x2="186.37" y2="588.50" stroke="#555" stroke-width="0.5" />
<line x1="191.08" y1="587.20" x2="191.08" y2="588.50" stroke="#555" stroke-width="0.5" />
<line x1="195.79" y1="587.20" x2="195.79" y2="588.50" stroke="#555" stroke-width="0.5" />
<line x1="200.50" y1="587.20" x2="200.50" y2="590.20" stroke="#333" stroke-width="0.8" />
<line x1="205.21" y1="587.20" x2="205.21" y2="588.50" stroke="#555" stroke-width="0.5" />
<line x1="209.92" y1="587.20" x2="209.92" y2="588.50" stroke="#555" stroke-width="0.5" />
<line x1="214.63" y1="587.20" x2="214.63" y2="588.50" stroke="#555" stroke-width="0.5" />
<line x1="219.34" y1="587.20" x2="219.34" y2="588.50" stroke="#555" stroke-width="0.5" />
<line x1="224.05" y1="587.20" x2="224.05" y2="588.50" stroke="#555" stroke-width="0.5" />
<line x1="228.76" y1="587.20" x2="228.76" y2="588.50" stroke="#555" stroke-width="0.5" />
<line x1="233.47" y1="587.20" x2="233.47" y2="588.50" stroke="#555" stroke-width="0.5" />
<line x1="238.18" y1="587.20" x2="238.18" y2="588.50" stroke="#555" stroke-width="0.5" />
<line x1="242.89" y1="587.20" x2="242.89" y2="588.50" stroke="#555" stroke-width="0.5" />
<line x1="247.60" y1="587.20" x2="247.60" y2="590.20" stroke="#333" stroke-width="0.8" />
<line x1="252.31" y1="587.20" x2="252.31" y2="588.50" stroke="#555" stroke-width="0.5" />
<line x1="257.02" y1="587.20" x2="257.02" y2="588.50" stroke="#555" stroke-width="0.5" />
<line x1="261.73" y1="587.20" x2="261.73" y2="588.50" stroke="#555" stroke-width="0.5" />
<line x1="266.44" y1="587.20" x2="266.44" y2="588.50" stroke="#555" stroke-width="0.5" />
<line x1="271.15" y1="587.20" x2="271.15" y2="588.50" stroke="#555" stroke-width="0.5" />
<line x1="275.86" y1="587.20" x2="275.86" y2="588.50" stroke="#555" stroke-width="0.5" />
<line x1="280.57" y1="587.20" x2="280.57" y2="588.50" stroke="#555" stroke-width="0.5" />
<line x1="285.28" y1="587.20" x2="285.28" y2="588.50" stroke="#555" stroke-width="0.5" />
<line x1="289.99" y1="587.20" x2="289.99" y2="588.50" stroke="#555" stroke-width="0.5" />
<line x1="294.70" y1="587.20" x2="294.70" y2="590.20" stroke="#333" stroke-width="0.8" />
<text x="0" y="0" font-size="6.6" text-anchor="middle" fill="#222" transform="translate(153.40 597.80) scale(0.93 1)" >0</text>
<text x="0" y="0" font-size="6.6" text-anchor="middle" fill="#222" transform="translate(200.50 597.80) scale(0.93 1)" >100</text>
<text x="0" y="0" font-size="6.6" text-anchor="middle" fill="#222" transform="translate(247.60 597.80) scale(0.93 1)" >200</text>
<text x="0" y="0" font-size="6.6" text-anchor="middle" fill="#222" transform="translate(294.70 597.80) scale(0.93 1)" >300</text>
<text x="227.90" y="612.20" font-size="7.6" text-anchor="middle" fill="#222" >Days post 2<tspan font-size="4.4" dy="-3">nd</tspan><tspan dy="3"> dose</tspan></text>
<text x="130.80" y="532.50" font-size="7.05" text-anchor="middle" fill="#222" transform="rotate(-90 130.8 532.5)" >IC50 (serum dilution)</text>
<line x1="180.00" y1="502.70" x2="292.70" y2="544.60" stroke="#333" stroke-width="0.8" />
<line x1="200.00" y1="507.60" x2="245.80" y2="507.60" stroke="#c58ab0" stroke-width="0.9" />
<line x1="166.60" y1="480.40" x2="250.80" y2="506.20" stroke="#7cc0f0" stroke-width="0.9" />
<circle cx="179.20" cy="475.00" r="1.8" fill="#ffffff" stroke="#333" stroke-width="0.6"/>
<circle cx="190.00" cy="475.00" r="1.8" fill="#ffffff" stroke="#333" stroke-width="0.6"/>
<circle cx="184.60" cy="478.10" r="1.8" fill="#ffffff" stroke="#333" stroke-width="0.6"/>
<circle cx="185.70" cy="480.40" r="1.8" fill="#ffffff" stroke="#333" stroke-width="0.6"/>
<circle cx="186.20" cy="482.70" r="1.8" fill="#ffffff" stroke="#333" stroke-width="0.6"/>
<circle cx="186.50" cy="492.40" r="1.8" fill="#ffffff" stroke="#333" stroke-width="0.6"/>
<circle cx="177.70" cy="495.80" r="1.8" fill="#ffffff" stroke="#333" stroke-width="0.6"/>
<circle cx="179.70" cy="500.70" r="1.8" fill="#ffffff" stroke="#333" stroke-width="0.6"/>
<circle cx="187.70" cy="501.60" r="1.8" fill="#ffffff" stroke="#333" stroke-width="0.6"/>
<circle cx="180.50" cy="504.20" r="1.8" fill="#ffffff" stroke="#333" stroke-width="0.6"/>
<circle cx="179.20" cy="506.80" r="1.8" fill="#ffffff" stroke="#333" stroke-width="0.6"/>
<circle cx="177.70" cy="514.20" r="1.8" fill="#ffffff" stroke="#333" stroke-width="0.6"/>
<circle cx="186.20" cy="516.50" r="1.8" fill="#ffffff" stroke="#333" stroke-width="0.6"/>
<circle cx="177.70" cy="519.60" r="1.8" fill="#ffffff" stroke="#333" stroke-width="0.6"/>
<circle cx="180.30" cy="519.20" r="1.8" fill="#ffffff" stroke="#333" stroke-width="0.6"/>
<circle cx="190.80" cy="518.80" r="1.8" fill="#ffffff" stroke="#333" stroke-width="0.6"/>
<circle cx="207.70" cy="516.80" r="1.8" fill="#ffffff" stroke="#333" stroke-width="0.6"/>
<circle cx="179.20" cy="525.00" r="1.8" fill="#ffffff" stroke="#333" stroke-width="0.6"/>
<circle cx="180.30" cy="525.80" r="1.8" fill="#ffffff" stroke="#333" stroke-width="0.6"/>
<circle cx="180.00" cy="546.50" r="1.8" fill="#ffffff" stroke="#333" stroke-width="0.6"/>
<circle cx="190.30" cy="549.50" r="1.8" fill="#ffffff" stroke="#333" stroke-width="0.6"/>
<circle cx="181.10" cy="561.50" r="1.8" fill="#ffffff" stroke="#333" stroke-width="0.6"/>
<circle cx="256.80" cy="512.70" r="1.8" fill="#ffffff" stroke="#333" stroke-width="0.6"/>
<circle cx="249.30" cy="516.50" r="1.8" fill="#ffffff" stroke="#333" stroke-width="0.6"/>
<circle cx="265.00" cy="527.30" r="1.8" fill="#ffffff" stroke="#333" stroke-width="0.6"/>
<circle cx="256.50" cy="533.90" r="1.8" fill="#ffffff" stroke="#333" stroke-width="0.6"/>
<circle cx="255.00" cy="536.10" r="1.8" fill="#ffffff" stroke="#333" stroke-width="0.6"/>
<circle cx="240.40" cy="541.90" r="1.8" fill="#ffffff" stroke="#333" stroke-width="0.6"/>
<circle cx="244.20" cy="551.00" r="1.8" fill="#ffffff" stroke="#333" stroke-width="0.6"/>
<circle cx="251.50" cy="547.40" r="1.8" fill="#ffffff" stroke="#333" stroke-width="0.6"/>
<circle cx="264.70" cy="546.90" r="1.8" fill="#ffffff" stroke="#333" stroke-width="0.6"/>
<circle cx="252.20" cy="553.10" r="1.8" fill="#ffffff" stroke="#333" stroke-width="0.6"/>
<circle cx="257.30" cy="556.50" r="1.8" fill="#ffffff" stroke="#333" stroke-width="0.6"/>
<circle cx="292.70" cy="559.50" r="1.8" fill="#ffffff" stroke="#333" stroke-width="0.6"/>
<circle cx="265.30" cy="586.60" r="1.8" fill="#ffffff" stroke="#333" stroke-width="0.6"/>
<circle cx="180.00" cy="533.90" r="1.8" fill="#82c24e" stroke="#333" stroke-width="0.6"/>
<circle cx="185.10" cy="532.40" r="1.8" fill="#82c24e" stroke="#333" stroke-width="0.6"/>
<circle cx="180.00" cy="549.50" r="1.8" fill="#82c24e" stroke="#333" stroke-width="0.6"/>
<circle cx="213.50" cy="527.30" r="1.8" fill="#2f4394" stroke="#222" stroke-width="0.6"/>
<circle cx="222.80" cy="559.20" r="1.8" fill="#2f4394" stroke="#222" stroke-width="0.6"/>
<circle cx="236.50" cy="475.00" r="1.8" fill="#2f4394" stroke="#222" stroke-width="0.6"/>
<circle cx="246.10" cy="521.90" r="1.8" fill="#2f4394" stroke="#222" stroke-width="0.6"/>
<circle cx="243.00" cy="538.10" r="1.8" fill="#2f4394" stroke="#222" stroke-width="0.6"/>
<circle cx="241.60" cy="552.60" r="1.8" fill="#2f4394" stroke="#222" stroke-width="0.6"/>
<circle cx="235.00" cy="587.20" r="1.8" fill="#2f4394" stroke="#222" stroke-width="0.6"/>
<circle cx="243.20" cy="587.20" r="1.8" fill="#2f4394" stroke="#222" stroke-width="0.6"/>
<circle cx="166.60" cy="475.00" r="1.8" fill="#62aaea" stroke="#333" stroke-width="0.6"/>
<circle cx="169.70" cy="475.00" r="1.8" fill="#62aaea" stroke="#333" stroke-width="0.6"/>
<circle cx="194.90" cy="475.00" r="1.8" fill="#62aaea" stroke="#333" stroke-width="0.6"/>
<circle cx="171.50" cy="480.10" r="1.8" fill="#62aaea" stroke="#333" stroke-width="0.6"/>
<circle cx="166.90" cy="485.00" r="1.8" fill="#62aaea" stroke="#333" stroke-width="0.6"/>
<circle cx="198.90" cy="493.90" r="1.8" fill="#62aaea" stroke="#333" stroke-width="0.6"/>
<circle cx="218.80" cy="491.20" r="1.8" fill="#62aaea" stroke="#333" stroke-width="0.6"/>
<circle cx="166.90" cy="506.50" r="1.8" fill="#62aaea" stroke="#333" stroke-width="0.6"/>
<circle cx="166.50" cy="508.80" r="1.8" fill="#62aaea" stroke="#333" stroke-width="0.6"/>
<circle cx="218.80" cy="550.80" r="1.8" fill="#62aaea" stroke="#333" stroke-width="0.6"/>
<circle cx="229.70" cy="549.50" r="1.8" fill="#62aaea" stroke="#333" stroke-width="0.6"/>
<circle cx="239.20" cy="478.40" r="1.8" fill="#62aaea" stroke="#333" stroke-width="0.6"/>
<circle cx="250.80" cy="475.00" r="1.8" fill="#62aaea" stroke="#333" stroke-width="0.6"/>
<circle cx="230.70" cy="549.50" r="1.8" fill="#62aaea" stroke="#333" stroke-width="0.6"/>
<circle cx="246.10" cy="565.10" r="1.8" fill="#62aaea" stroke="#333" stroke-width="0.6"/>
<circle cx="246.10" cy="577.40" r="1.8" fill="#62aaea" stroke="#333" stroke-width="0.6"/>
<rect x="205.10" y="484.30" width="3.60" height="3.60" fill="#892462" stroke="#333" stroke-width="0.5" />
<rect x="244.30" y="498.10" width="3.60" height="3.60" fill="#892462" stroke="#333" stroke-width="0.5" />
<path d="M233.43,545.11 L237.57,545.11 L235.50,541.33 Z" fill="#892462" stroke="#333" stroke-width="0.5"/>
<path d="M217.93,504.09 L222.07,504.09 L220.00,507.87 Z" fill="#892462" stroke="#333" stroke-width="0.5"/>
<path d="M198.43,575.99 L202.57,575.99 L200.50,579.77 Z" fill="#892462" stroke="#333" stroke-width="0.5"/>
<rect x="256.50" y="471.80" width="51.50" height="32.40" fill="#fff" stroke="#555" stroke-width="0.7" />
<text x="259.70" y="479.00" font-size="6.2" text-anchor="start" fill="#222" >Slope</text>
<line x1="261.50" y1="483.10" x2="274.50" y2="483.10" stroke="#333" stroke-width="1.1" />
<text x="277.50" y="485.20" font-size="6.2" text-anchor="start" fill="#666" >:</text>
<text x="281.00" y="485.20" font-size="6.2" text-anchor="start" fill="#222" >-0.003</text>
<line x1="261.50" y1="490.60" x2="274.50" y2="490.60" stroke="#9b3a7a" stroke-width="1.1" />
<text x="277.50" y="492.70" font-size="6.2" text-anchor="start" fill="#666" >:</text>
<text x="281.00" y="492.70" font-size="6.2" text-anchor="start" fill="#222" >-0.00005</text>
<line x1="261.50" y1="498.10" x2="274.50" y2="498.10" stroke="#7cc0f0" stroke-width="1.1" />
<text x="277.50" y="500.20" font-size="6.2" text-anchor="start" fill="#666" >:</text>
<text x="281.00" y="500.20" font-size="6.2" text-anchor="start" fill="#222" >-0.002</text>
<line x1="314.30" y1="475.00" x2="367.70" y2="475.00" stroke="#444" stroke-width="0.9" />
<line x1="367.70" y1="475.00" x2="367.70" y2="587.20" stroke="#999" stroke-width="1.0" />
<line x1="314.30" y1="475.00" x2="314.30" y2="587.20" stroke="#333" stroke-width="0.9" />
<line x1="312.90" y1="581.24" x2="314.30" y2="581.24" stroke="#555" stroke-width="0.5" />
<line x1="312.90" y1="576.29" x2="314.30" y2="576.29" stroke="#555" stroke-width="0.5" />
<line x1="312.90" y1="572.10" x2="314.30" y2="572.10" stroke="#555" stroke-width="0.5" />
<line x1="312.90" y1="568.47" x2="314.30" y2="568.47" stroke="#555" stroke-width="0.5" />
<line x1="312.90" y1="565.26" x2="314.30" y2="565.26" stroke="#555" stroke-width="0.5" />
<line x1="310.80" y1="562.40" x2="314.30" y2="562.40" stroke="#333" stroke-width="0.8" />
<line x1="312.90" y1="543.56" x2="314.30" y2="543.56" stroke="#555" stroke-width="0.5" />
<line x1="312.90" y1="532.53" x2="314.30" y2="532.53" stroke="#555" stroke-width="0.5" />
<line x1="312.90" y1="524.71" x2="314.30" y2="524.71" stroke="#555" stroke-width="0.5" />
<line x1="312.90" y1="518.64" x2="314.30" y2="518.64" stroke="#555" stroke-width="0.5" />
<line x1="312.90" y1="513.69" x2="314.30" y2="513.69" stroke="#555" stroke-width="0.5" />
<line x1="312.90" y1="509.50" x2="314.30" y2="509.50" stroke="#555" stroke-width="0.5" />
<line x1="312.90" y1="505.87" x2="314.30" y2="505.87" stroke="#555" stroke-width="0.5" />
<line x1="312.90" y1="502.66" x2="314.30" y2="502.66" stroke="#555" stroke-width="0.5" />
<line x1="310.80" y1="499.80" x2="314.30" y2="499.80" stroke="#333" stroke-width="0.8" />
<line x1="312.90" y1="480.96" x2="314.30" y2="480.96" stroke="#555" stroke-width="0.5" />
<line x1="314.30" y1="587.20" x2="367.70" y2="587.20" stroke="#333" stroke-width="0.9" />
<text x="338.80" y="461.50" font-size="6.9" text-anchor="middle" fill="#222" textLength="31.2" lengthAdjust="spacingAndGlyphs">&gt;120 days</text>
<text x="339.80" y="470.80" font-size="6.9" text-anchor="middle" fill="#222" textLength="40.2" lengthAdjust="spacingAndGlyphs">post 2<tspan font-size="4.0" dy="-2.8">nd</tspan><tspan dy="2.8"> dose</tspan></text>
<rect x="318.30" y="542.60" width="8.30" height="44.60" fill="#fff" stroke="#222" stroke-width="0.7" />
<circle cx="322.70" cy="512.80" r="1.8" fill="#fff" stroke="#333" stroke-width="0.55"/>
<circle cx="322.70" cy="527.90" r="1.8" fill="#fff" stroke="#333" stroke-width="0.55"/>
<circle cx="324.70" cy="534.10" r="1.8" fill="#fff" stroke="#333" stroke-width="0.55"/>
<circle cx="320.00" cy="536.80" r="1.8" fill="#fff" stroke="#333" stroke-width="0.55"/>
<circle cx="321.90" cy="539.90" r="1.8" fill="#fff" stroke="#333" stroke-width="0.55"/>
<circle cx="323.20" cy="542.30" r="1.8" fill="#fff" stroke="#333" stroke-width="0.55"/>
<circle cx="320.00" cy="547.00" r="1.8" fill="#fff" stroke="#333" stroke-width="0.55"/>
<circle cx="324.30" cy="548.50" r="1.8" fill="#fff" stroke="#333" stroke-width="0.55"/>
<circle cx="320.00" cy="554.00" r="1.8" fill="#fff" stroke="#333" stroke-width="0.55"/>
<circle cx="324.70" cy="551.60" r="1.8" fill="#fff" stroke="#333" stroke-width="0.55"/>
<circle cx="320.00" cy="559.50" r="1.8" fill="#fff" stroke="#333" stroke-width="0.55"/>
<circle cx="324.70" cy="557.10" r="1.8" fill="#fff" stroke="#333" stroke-width="0.55"/>
<circle cx="320.00" cy="587.20" r="1.8" fill="#fff" stroke="#333" stroke-width="0.55"/>
<circle cx="324.70" cy="586.50" r="1.8" fill="#fff" stroke="#333" stroke-width="0.55"/>
<rect x="330.80" y="511.30" width="8.00" height="75.90" fill="#892462" stroke="#222" stroke-width="0.7" />
<line x1="334.80" y1="501.70" x2="334.80" y2="523.20" stroke="#222" stroke-width="0.7" />
<line x1="333.20" y1="501.70" x2="336.40" y2="501.70" stroke="#222" stroke-width="0.7" />
<line x1="333.20" y1="523.20" x2="336.40" y2="523.20" stroke="#222" stroke-width="0.7" />
<rect x="332.90" y="497.40" width="3.60" height="3.60" fill="#fff" stroke="#333" stroke-width="0.55" />
<path d="M332.7,504.2 L336.7,504.2 L334.7,507.8 Z" fill="#fff" stroke="#333" stroke-width="0.55"/>
<path d="M332.7,545.4 L336.7,545.4 L334.7,541.8 Z" fill="#fff" stroke="#333" stroke-width="0.55"/>
<rect x="343.00" y="505.00" width="8.30" height="82.20" fill="#62aaea" stroke="#222" stroke-width="0.7" />
<line x1="347.15" y1="494.30" x2="347.15" y2="520.00" stroke="#222" stroke-width="0.7" />
<line x1="345.55" y1="494.30" x2="348.75" y2="494.30" stroke="#222" stroke-width="0.7" />
<line x1="345.55" y1="520.00" x2="348.75" y2="520.00" stroke="#222" stroke-width="0.7" />
<circle cx="344.60" cy="478.50" r="1.8" fill="#fff" stroke="#333" stroke-width="0.55"/>
<circle cx="349.50" cy="475.40" r="1.8" fill="#fff" stroke="#333" stroke-width="0.55"/>
<circle cx="359.20" cy="475.40" r="1.8" fill="#fff" stroke="#333" stroke-width="0.55"/>
<circle cx="347.20" cy="491.20" r="1.8" fill="#fff" stroke="#333" stroke-width="0.55"/>
<circle cx="347.00" cy="541.90" r="1.8" fill="#fff" stroke="#333" stroke-width="0.55"/>
<circle cx="344.90" cy="550.90" r="1.8" fill="#fff" stroke="#333" stroke-width="0.55"/>
<circle cx="349.80" cy="550.10" r="1.8" fill="#fff" stroke="#333" stroke-width="0.55"/>
<circle cx="347.00" cy="565.40" r="1.8" fill="#fff" stroke="#333" stroke-width="0.55"/>
<circle cx="347.00" cy="577.50" r="1.8" fill="#fff" stroke="#333" stroke-width="0.55"/>
<rect x="355.60" y="519.90" width="8.10" height="67.30" fill="#2f4394" stroke="#222" stroke-width="0.7" />
<line x1="359.65" y1="506.60" x2="359.65" y2="544.60" stroke="#222" stroke-width="0.7" />
<line x1="358.05" y1="506.60" x2="361.25" y2="506.60" stroke="#222" stroke-width="0.7" />
<line x1="358.05" y1="544.60" x2="361.25" y2="544.60" stroke="#222" stroke-width="0.7" />
<circle cx="359.50" cy="521.90" r="1.8" fill="#fff" stroke="#333" stroke-width="0.55"/>
<circle cx="359.50" cy="527.90" r="1.8" fill="#fff" stroke="#333" stroke-width="0.55"/>
<circle cx="359.50" cy="538.30" r="1.8" fill="#fff" stroke="#333" stroke-width="0.55"/>
<circle cx="359.50" cy="552.90" r="1.8" fill="#fff" stroke="#333" stroke-width="0.55"/>
<circle cx="359.50" cy="559.20" r="1.8" fill="#fff" stroke="#333" stroke-width="0.55"/>
<circle cx="357.10" cy="587.20" r="1.8" fill="#fff" stroke="#333" stroke-width="0.55"/>
<circle cx="361.80" cy="587.20" r="1.8" fill="#fff" stroke="#333" stroke-width="0.55"/>
<text x="324.30" y="595.70" font-size="6.4" text-anchor="end" fill="#222" transform="rotate(-45 324.3 595.6999999999999)" >HD</text>
<text x="336.80" y="595.70" font-size="6.4" text-anchor="end" fill="#222" transform="rotate(-45 336.8 595.6999999999999)" >IRF7/TLR7/IFNAR1<tspan font-size="3.4" dy="-2.6">LOF</tspan></text>
<text x="349.80" y="595.70" font-size="6.4" text-anchor="end" fill="#222" transform="rotate(-45 349.8 595.6999999999999)" >APS-1</text>
<text x="362.30" y="595.70" font-size="6.4" text-anchor="end" fill="#222" transform="rotate(-45 362.3 595.6999999999999)" >AAB</text>
<text x="383.20" y="445.90" font-size="13.0" text-anchor="start" fill="#111" >F</text>
<line x1="411.40" y1="474.90" x2="411.40" y2="586.80" stroke="#444" stroke-width="0.85" />
<line x1="411.40" y1="586.80" x2="511.20" y2="586.80" stroke="#444" stroke-width="0.85" />
<line x1="408.80" y1="474.90" x2="411.40" y2="474.90" stroke="#333" stroke-width="0.8" />
<text x="0" y="0" font-size="6.5" text-anchor="end" fill="#222" transform="translate(407.50 477.10) scale(0.98 1)" >100000</text>
<line x1="408.80" y1="512.20" x2="411.40" y2="512.20" stroke="#333" stroke-width="0.8" />
<text x="0" y="0" font-size="6.5" text-anchor="end" fill="#222" transform="translate(407.50 514.40) scale(0.98 1)" >10000</text>
<line x1="408.80" y1="549.50" x2="411.40" y2="549.50" stroke="#333" stroke-width="0.8" />
<text x="0" y="0" font-size="6.5" text-anchor="end" fill="#222" transform="translate(407.50 551.70) scale(0.98 1)" >1000</text>
<line x1="408.80" y1="586.80" x2="411.40" y2="586.80" stroke="#333" stroke-width="0.8" />
<text x="0" y="0" font-size="6.5" text-anchor="end" fill="#222" transform="translate(407.50 589.00) scale(0.98 1)" >100</text>
<line x1="411.40" y1="586.80" x2="411.40" y2="589.40" stroke="#333" stroke-width="0.8" />
<text x="0" y="0" font-size="6.6" text-anchor="middle" fill="#222" transform="translate(411.40 597.10) scale(0.93 1)" >10</text>
<line x1="444.67" y1="586.80" x2="444.67" y2="589.40" stroke="#333" stroke-width="0.8" />
<text x="0" y="0" font-size="6.6" text-anchor="middle" fill="#222" transform="translate(444.67 597.10) scale(0.93 1)" >100</text>
<line x1="477.93" y1="586.80" x2="477.93" y2="589.40" stroke="#333" stroke-width="0.8" />
<text x="0" y="0" font-size="6.6" text-anchor="middle" fill="#222" transform="translate(477.93 597.10) scale(0.93 1)" >1000</text>
<line x1="511.20" y1="586.80" x2="511.20" y2="589.40" stroke="#333" stroke-width="0.8" />
<text x="0" y="0" font-size="6.6" text-anchor="middle" fill="#222" transform="translate(511.20 597.10) scale(0.93 1)" >10000</text>
<text x="461.20" y="607.40" font-size="6.97" text-anchor="middle" fill="#222" >IC50 (serum dilution)</text>
<text x="384.80" y="529.20" font-size="7.5" text-anchor="middle" fill="#222" transform="rotate(-90 384.8 529.2)" >Anti-RBD IgG titers (A.U./ml)</text>
<text x="466.50" y="461.80" font-size="6.9" text-anchor="middle" fill="#222" textLength="31.2" lengthAdjust="spacingAndGlyphs">&gt;120 days</text>
<text x="467.10" y="470.60" font-size="6.9" text-anchor="middle" fill="#222" textLength="40.2" lengthAdjust="spacingAndGlyphs">post 2<tspan font-size="4.0" dy="-2.8">nd</tspan><tspan dy="2.8"> dose</tspan></text>
<rect x="428.70" y="479.30" width="48.20" height="19.00" fill="#fff" stroke="#555" stroke-width="0.7" />
<text x="432.70" y="486.80" font-size="6.0" text-anchor="start" fill="#222" textLength="25.4" lengthAdjust="spacingAndGlyphs">r= 0.8780</text>
<text x="432.70" y="493.90" font-size="6.0" text-anchor="start" fill="#222" textLength="33.8" lengthAdjust="spacingAndGlyphs">p-value: ****</text>
<circle cx="491.30" cy="485.50" r="2.3" fill="#2f4394" stroke="#222" stroke-width="0.6"/>
<circle cx="431.50" cy="578.40" r="2.3" fill="#2f4394" stroke="#222" stroke-width="0.6"/>
<circle cx="431.10" cy="558.90" r="2.3" fill="#2f4394" stroke="#222" stroke-width="0.6"/>
<circle cx="463.60" cy="534.20" r="2.3" fill="#2f4394" stroke="#222" stroke-width="0.6"/>
<circle cx="466.50" cy="541.20" r="2.3" fill="#2f4394" stroke="#222" stroke-width="0.6"/>
<circle cx="450.40" cy="547.40" r="2.3" fill="#2f4394" stroke="#222" stroke-width="0.6"/>
<circle cx="458.10" cy="532.40" r="2.3" fill="#2f4394" stroke="#222" stroke-width="0.6"/>
<circle cx="489.50" cy="507.00" r="2.3" fill="#62aaea" stroke="#333" stroke-width="0.6"/>
<circle cx="491.70" cy="508.00" r="2.3" fill="#62aaea" stroke="#333" stroke-width="0.6"/>
<circle cx="482.40" cy="513.10" r="2.3" fill="#62aaea" stroke="#333" stroke-width="0.6"/>
<circle cx="436.60" cy="547.40" r="2.3" fill="#62aaea" stroke="#333" stroke-width="0.6"/>
<circle cx="443.30" cy="554.70" r="2.3" fill="#62aaea" stroke="#333" stroke-width="0.6"/>
<circle cx="455.90" cy="534.20" r="2.3" fill="#62aaea" stroke="#333" stroke-width="0.6"/>
<circle cx="450.40" cy="543.00" r="2.3" fill="#62aaea" stroke="#333" stroke-width="0.6"/>
<path d="M452.16,544.08 L457.44,544.08 L454.80,539.25 Z" fill="#892462" stroke="#333" stroke-width="0.5"/>
<circle cx="450.40" cy="530.20" r="2.3" fill="#ffffff" stroke="#333" stroke-width="0.6"/>
<circle cx="455.40" cy="529.30" r="2.3" fill="#ffffff" stroke="#333" stroke-width="0.6"/>
<circle cx="463.00" cy="529.70" r="2.3" fill="#ffffff" stroke="#333" stroke-width="0.6"/>
<circle cx="471.40" cy="534.20" r="2.3" fill="#ffffff" stroke="#333" stroke-width="0.6"/>
<circle cx="452.60" cy="538.10" r="2.3" fill="#ffffff" stroke="#333" stroke-width="0.6"/>
<circle cx="450.40" cy="544.80" r="2.3" fill="#ffffff" stroke="#333" stroke-width="0.6"/>
<circle cx="445.90" cy="547.90" r="2.3" fill="#ffffff" stroke="#333" stroke-width="0.6"/>
<circle cx="459.90" cy="544.80" r="2.3" fill="#ffffff" stroke="#333" stroke-width="0.6"/>
<circle cx="458.50" cy="550.10" r="2.3" fill="#ffffff" stroke="#333" stroke-width="0.6"/>
<circle cx="448.10" cy="553.40" r="2.3" fill="#ffffff" stroke="#333" stroke-width="0.6"/>
<circle cx="431.50" cy="561.20" r="2.3" fill="#ffffff" stroke="#333" stroke-width="0.6"/>
<circle cx="431.50" cy="564.00" r="2.3" fill="#ffffff" stroke="#333" stroke-width="0.6"/>
<path d="M472.06,507.21 L477.34,507.21 L474.70,512.04 Z" fill="#892462" stroke="#333" stroke-width="0.5"/>
<rect x="475.70" y="526.80" width="4.60" height="4.60" fill="#892462" stroke="#333" stroke-width="0.5" />

</svg></body></html>
